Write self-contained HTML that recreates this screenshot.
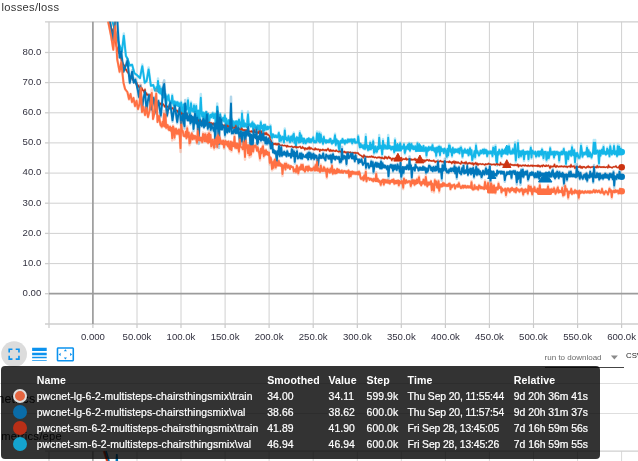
<!DOCTYPE html>
<html lang="en">
<head>
<meta charset="utf-8">
<title>losses/loss</title>
<style>
html,body{margin:0;padding:0;background:#fff;}
body{width:638px;height:461px;overflow:hidden;position:relative;font-family:"Liberation Sans",sans-serif;}
#chart{position:absolute;left:0;top:0;width:638px;height:461px;}
#chart text{font-family:"Liberation Sans",sans-serif;}
.title{position:absolute;left:1.5px;top:1px;font-size:11.2px;letter-spacing:.28px;color:#333;white-space:nowrap;line-height:13px;}
.tick{font-size:9.6px;fill:#32313f;}
.behind{position:absolute;color:#111;white-space:nowrap;}
.hline{position:absolute;left:0;width:638px;height:1px;background:#dedede;}
#tip{position:absolute;left:1px;top:366px;width:599px;height:93px;background:rgba(0,0,0,.8);border-radius:4px;color:#fff;font-size:10.4px;}
#tip div{position:absolute;white-space:nowrap;line-height:12px;letter-spacing:.1px;-webkit-text-stroke:.22px #fff;}
#tip .h{-webkit-text-stroke:0;}
#tip .h{font-weight:bold;font-size:10.6px;}
#tip .sw{width:14px;height:14px;border-radius:50%;box-sizing:border-box;}
.dl{position:absolute;left:544.6px;top:351.5px;font-size:8px;color:#6a6a6a;white-space:nowrap;line-height:11px;}
.csv{position:absolute;left:626px;top:349.7px;font-size:7.8px;color:#222;white-space:nowrap;line-height:11px;}
</style>
</head>
<body>

<svg id="chart" width="638" height="461" viewBox="0 0 638 461">
<defs><clipPath id="pc"><rect x="49.0" y="21.8" width="589.0" height="302.2"/></clipPath></defs>
<g stroke="#d0d0d0" stroke-width="1"><line x1="137.0" y1="21.8" x2="137.0" y2="324.0"/><line x1="181.0" y1="21.8" x2="181.0" y2="324.0"/><line x1="225.1" y1="21.8" x2="225.1" y2="324.0"/><line x1="269.1" y1="21.8" x2="269.1" y2="324.0"/><line x1="313.2" y1="21.8" x2="313.2" y2="324.0"/><line x1="357.3" y1="21.8" x2="357.3" y2="324.0"/><line x1="401.3" y1="21.8" x2="401.3" y2="324.0"/><line x1="445.4" y1="21.8" x2="445.4" y2="324.0"/><line x1="489.4" y1="21.8" x2="489.4" y2="324.0"/><line x1="533.5" y1="21.8" x2="533.5" y2="324.0"/><line x1="577.6" y1="21.8" x2="577.6" y2="324.0"/><line x1="621.6" y1="21.8" x2="621.6" y2="324.0"/><line x1="49.0" y1="263.6" x2="638" y2="263.6"/><line x1="49.0" y1="233.4" x2="638" y2="233.4"/><line x1="49.0" y1="203.2" x2="638" y2="203.2"/><line x1="49.0" y1="173.1" x2="638" y2="173.1"/><line x1="49.0" y1="142.9" x2="638" y2="142.9"/><line x1="49.0" y1="112.8" x2="638" y2="112.8"/><line x1="49.0" y1="82.6" x2="638" y2="82.6"/><line x1="49.0" y1="52.5" x2="638" y2="52.5"/></g>
<g stroke="#cecece" stroke-width="1.3" fill="none">
<line x1="45.0" y1="21.8" x2="638" y2="21.8"/>
<line x1="49.0" y1="21.8" x2="49.0" y2="328.0"/>
<line x1="45.0" y1="324.0" x2="638" y2="324.0"/>
<line x1="45.0" y1="293.7" x2="49.0" y2="293.7"/>
<line x1="45.0" y1="263.6" x2="49.0" y2="263.6"/>
<line x1="45.0" y1="233.4" x2="49.0" y2="233.4"/>
<line x1="45.0" y1="203.2" x2="49.0" y2="203.2"/>
<line x1="45.0" y1="173.1" x2="49.0" y2="173.1"/>
<line x1="45.0" y1="142.9" x2="49.0" y2="142.9"/>
<line x1="45.0" y1="112.8" x2="49.0" y2="112.8"/>
<line x1="45.0" y1="82.6" x2="49.0" y2="82.6"/>
<line x1="45.0" y1="52.5" x2="49.0" y2="52.5"/>
</g>
<g stroke="#c9c9c9" stroke-width="1.2"><line x1="92.9" y1="324.0" x2="92.9" y2="328.0"/><line x1="137.0" y1="324.0" x2="137.0" y2="328.0"/><line x1="181.0" y1="324.0" x2="181.0" y2="328.0"/><line x1="225.1" y1="324.0" x2="225.1" y2="328.0"/><line x1="269.1" y1="324.0" x2="269.1" y2="328.0"/><line x1="313.2" y1="324.0" x2="313.2" y2="328.0"/><line x1="357.3" y1="324.0" x2="357.3" y2="328.0"/><line x1="401.3" y1="324.0" x2="401.3" y2="328.0"/><line x1="445.4" y1="324.0" x2="445.4" y2="328.0"/><line x1="489.4" y1="324.0" x2="489.4" y2="328.0"/><line x1="533.5" y1="324.0" x2="533.5" y2="328.0"/><line x1="577.6" y1="324.0" x2="577.6" y2="328.0"/><line x1="621.6" y1="324.0" x2="621.6" y2="328.0"/></g>
<g stroke="#9c9c9c" stroke-width="1.7"><line x1="92.9" y1="21.8" x2="92.9" y2="324.0"/><line x1="49.0" y1="293.7" x2="638" y2="293.7"/></g>
<text class="tick" x="41.3" y="296.0" text-anchor="end">0.00</text>
<text class="tick" x="41.3" y="265.9" text-anchor="end">10.0</text>
<text class="tick" x="41.3" y="235.7" text-anchor="end">20.0</text>
<text class="tick" x="41.3" y="205.6" text-anchor="end">30.0</text>
<text class="tick" x="41.3" y="175.4" text-anchor="end">40.0</text>
<text class="tick" x="41.3" y="145.2" text-anchor="end">50.0</text>
<text class="tick" x="41.3" y="115.1" text-anchor="end">60.0</text>
<text class="tick" x="41.3" y="84.9" text-anchor="end">70.0</text>
<text class="tick" x="41.3" y="54.8" text-anchor="end">80.0</text>
<text class="tick" x="92.9" y="340.3" text-anchor="middle">0.000</text>
<text class="tick" x="137.0" y="340.3" text-anchor="middle">50.00k</text>
<text class="tick" x="181.0" y="340.3" text-anchor="middle">100.0k</text>
<text class="tick" x="225.1" y="340.3" text-anchor="middle">150.0k</text>
<text class="tick" x="269.1" y="340.3" text-anchor="middle">200.0k</text>
<text class="tick" x="313.2" y="340.3" text-anchor="middle">250.0k</text>
<text class="tick" x="357.3" y="340.3" text-anchor="middle">300.0k</text>
<text class="tick" x="401.3" y="340.3" text-anchor="middle">350.0k</text>
<text class="tick" x="445.4" y="340.3" text-anchor="middle">400.0k</text>
<text class="tick" x="489.4" y="340.3" text-anchor="middle">450.0k</text>
<text class="tick" x="533.5" y="340.3" text-anchor="middle">500.0k</text>
<text class="tick" x="577.6" y="340.3" text-anchor="middle">550.0k</text>
<text class="tick" x="621.6" y="340.3" text-anchor="middle">600.0k</text>
<g clip-path="url(#pc)" fill="none" stroke-linejoin="round" stroke-linecap="round">
<polyline points="108.0,-21.3 112.0,19.7 116.0,34.2 119.0,44.6 121.9,52.1 123.8,33.6 125.9,56.0 127.4,58.3 129.8,66.0 132.1,64.6 134.5,73.9 136.8,75.2 140.0,78.4 142.3,64.6 144.7,83.3 146.6,81.1 148.6,67.5 150.9,86.0 153.3,84.8 154.9,90.9 155.8,91.1 156.5,86.7 157.2,91.5 158.0,78.6 158.8,92.7 159.5,85.0 160.2,93.7 161.0,87.8 161.8,95.2 162.5,92.2 163.2,98.4 164.0,89.5 164.8,97.3 165.5,93.9 166.2,106.0 167.0,96.2 167.8,99.9 168.5,94.5 169.2,101.0 170.0,101.9 170.8,104.1 171.5,103.0 172.2,94.4 173.0,103.1 173.8,106.5 174.5,101.0 175.2,105.4 176.0,101.8 176.8,105.7 177.5,101.8 178.2,106.3 179.0,102.6 179.8,107.2 180.5,104.1 181.2,101.6 182.0,123.2 182.8,119.4 183.5,103.7 184.2,108.9 185.0,103.4 185.8,109.3 186.5,109.8 187.2,106.8 188.0,98.2 188.8,113.9 189.5,107.7 190.2,114.1 191.0,101.7 191.8,111.1 192.5,108.6 193.2,111.9 194.0,104.2 194.8,112.4 195.5,109.4 196.2,104.6 197.0,123.3 197.8,110.4 198.5,110.5 199.2,127.7 200.0,111.6 200.8,94.1 201.5,111.6 202.2,117.2 203.0,112.2 203.8,119.9 204.5,112.8 205.2,120.1 206.0,111.4 206.8,118.5 207.5,113.7 208.2,113.6 209.0,124.3 209.8,117.6 210.5,114.5 211.2,117.6 212.0,113.9 212.8,112.3 213.5,118.3 214.2,115.1 215.0,113.0 215.8,127.0 216.5,119.7 217.2,103.6 218.0,115.9 218.8,116.6 219.5,123.5 220.2,113.2 221.0,120.4 221.8,121.0 222.5,118.3 223.2,117.4 224.0,121.7 224.8,114.3 225.5,123.6 226.2,118.2 227.0,127.0 227.8,127.5 228.5,120.1 229.2,123.5 230.0,120.2 230.8,123.0 231.5,118.7 232.2,126.3 233.0,120.9 233.8,127.8 234.5,124.1 235.2,121.2 236.0,132.5 236.8,120.9 237.5,121.5 238.2,128.5 239.0,118.7 239.8,124.6 240.5,122.3 241.2,135.1 242.0,110.9 242.8,127.0 243.5,119.4 244.2,127.0 245.0,123.3 245.8,126.0 246.5,127.5 247.2,121.8 248.0,111.6 248.8,125.9 249.5,124.1 250.2,123.9 251.0,126.9 251.8,123.0 252.5,121.4 253.2,130.5 254.0,123.3 254.8,127.9 255.5,125.0 256.2,129.5 257.0,128.5 257.8,125.3 258.5,130.3 259.2,125.6 260.0,132.7 260.8,121.1 261.5,128.4 262.2,125.6 263.0,131.9 263.8,124.5 264.5,131.1 265.2,124.3 266.0,128.7 266.8,129.9 267.5,126.5 268.2,129.2 269.0,126.8 269.8,126.9 270.5,124.9 271.2,137.7 272.0,138.6 272.8,133.9 273.5,134.6 274.2,137.3 275.0,137.2 275.8,135.2 276.5,137.4 277.2,137.6 278.0,135.7 278.8,132.0 279.5,142.1 280.2,135.3 281.0,141.6 281.8,138.7 282.5,136.5 283.2,138.7 284.0,143.3 284.8,128.5 285.5,139.3 286.2,137.3 287.0,141.1 287.8,139.8 288.5,135.7 289.2,140.8 290.0,142.9 290.8,136.7 291.5,135.7 292.2,141.7 293.0,134.8 293.8,132.6 294.5,143.5 295.2,138.4 296.0,148.1 296.8,136.7 297.5,140.8 298.2,137.5 299.0,143.3 299.8,131.3 300.5,142.6 301.2,134.4 302.0,141.9 302.8,138.2 303.5,143.9 304.2,138.6 305.0,140.7 305.8,144.1 306.5,142.3 307.2,138.8 308.0,141.9 308.8,137.9 309.5,142.6 310.2,138.9 311.0,142.7 311.8,138.9 312.5,141.0 313.2,136.7 314.0,142.8 314.8,141.4 315.5,143.0 316.2,142.7 317.0,131.4 317.8,138.7 318.5,141.5 319.2,131.7 320.0,142.7 320.8,133.0 321.5,141.4 322.2,138.8 323.0,144.6 323.8,135.9 324.5,141.8 325.2,139.9 326.0,143.2 326.8,140.1 327.5,142.3 328.2,140.2 329.0,142.4 329.8,138.5 330.5,138.4 331.2,142.4 332.0,144.1 332.8,140.6 333.5,142.7 334.2,140.2 335.0,133.7 335.8,145.8 336.5,139.0 337.2,143.6 338.0,140.6 338.8,149.4 339.5,153.2 340.2,141.4 341.0,140.5 341.8,142.8 342.5,138.4 343.2,142.5 344.0,140.4 344.8,144.5 345.5,140.3 346.2,142.2 347.0,143.0 347.8,139.0 348.5,141.9 349.2,139.3 350.0,141.7 350.8,139.2 351.5,139.1 352.2,144.2 353.0,139.3 353.8,141.7 354.5,139.0 355.2,143.3 356.0,142.6 356.8,143.1 357.5,142.9 358.2,135.2 359.0,143.2 359.8,148.4 360.5,143.5 361.2,147.4 362.0,144.9 362.8,147.6 363.5,149.0 364.2,144.5 365.0,149.6 365.8,134.3 366.5,147.9 367.2,145.2 368.0,151.0 368.8,145.8 369.5,150.0 370.2,141.6 371.0,149.8 371.8,144.1 372.5,148.2 373.2,139.8 374.0,154.2 374.8,150.9 375.5,146.2 376.2,152.9 377.0,152.5 377.8,146.5 378.5,149.5 379.2,135.1 380.0,148.2 380.8,145.2 381.5,148.7 382.2,156.0 383.0,139.1 383.8,149.1 384.5,144.4 385.2,144.7 386.0,148.9 386.8,146.4 387.5,148.8 388.2,135.1 389.0,148.3 389.8,145.5 390.5,148.7 391.2,150.2 392.0,146.5 392.8,149.2 393.5,146.4 394.2,153.4 395.0,138.4 395.8,150.3 396.5,146.5 397.2,148.9 398.0,146.4 398.8,149.7 399.5,146.5 400.2,142.5 401.0,149.5 401.8,146.5 402.5,148.8 403.2,146.4 404.0,143.5 404.8,154.2 405.5,151.2 406.2,146.4 407.0,148.9 407.8,144.1 408.5,149.5 409.2,142.7 410.0,151.4 410.8,143.7 411.5,143.1 412.2,148.9 413.0,145.6 413.8,149.6 414.5,149.2 415.2,145.6 416.0,151.2 416.8,150.1 417.5,142.4 418.2,146.4 419.0,149.2 419.8,150.2 420.5,146.9 421.2,146.4 422.0,149.4 422.8,149.6 423.5,145.4 424.2,151.5 425.0,149.9 425.8,147.2 426.5,157.2 427.2,147.9 428.0,151.3 428.8,146.5 429.5,150.1 430.2,147.9 431.0,146.8 431.8,150.4 432.5,144.0 433.2,150.4 434.0,147.8 434.8,152.4 435.5,147.7 436.2,157.5 437.0,147.2 437.8,152.5 438.5,146.2 439.2,145.6 440.0,156.3 440.8,146.6 441.5,151.3 442.2,149.1 443.0,149.1 443.8,153.6 444.5,148.3 445.2,149.2 446.0,152.3 446.8,158.4 447.5,148.5 448.2,156.6 449.0,144.0 449.8,144.7 450.5,151.9 451.2,149.2 452.0,156.9 452.8,147.2 453.5,153.0 454.2,153.2 455.0,148.9 455.8,152.3 456.5,149.7 457.2,148.8 458.0,152.4 458.8,148.3 459.5,153.9 460.2,147.3 461.0,146.4 461.8,149.8 462.5,157.8 463.2,150.5 464.0,153.0 464.8,148.6 465.5,152.7 466.2,150.4 467.0,153.3 467.8,149.3 468.5,156.0 469.2,153.3 470.0,147.2 470.8,155.2 471.5,149.7 472.2,162.0 473.0,157.6 473.8,155.9 474.5,151.0 475.2,158.6 476.0,143.8 476.8,153.0 477.5,150.9 478.2,153.4 479.0,156.1 479.8,154.1 480.5,150.2 481.2,153.5 482.0,151.1 482.8,149.2 483.5,153.9 484.2,148.8 485.0,153.4 485.8,149.4 486.5,149.9 487.2,157.1 488.0,151.3 488.8,153.6 489.5,153.7 490.2,151.0 491.0,153.6 491.8,151.1 492.5,157.0 493.2,146.4 494.0,148.4 494.8,154.6 495.5,145.1 496.2,162.2 497.0,165.7 497.8,151.8 498.5,155.0 499.2,149.3 500.0,153.5 500.8,151.2 501.5,157.4 502.2,148.9 503.0,154.1 503.8,150.6 504.5,150.2 505.2,153.7 506.0,153.8 506.8,151.2 507.5,154.8 508.2,151.1 509.0,144.5 509.8,150.8 510.5,154.0 511.2,151.3 512.0,153.9 512.8,148.3 513.5,151.0 514.2,153.7 515.0,142.0 515.8,162.4 516.5,151.7 517.2,150.1 518.0,140.6 518.8,158.3 519.5,151.0 520.2,151.2 521.0,157.2 521.8,150.7 522.5,154.7 523.2,150.0 524.0,161.1 524.8,151.7 525.5,154.4 526.2,151.4 527.0,153.8 527.8,151.3 528.5,160.7 529.2,151.6 530.0,153.8 530.8,146.5 531.5,158.7 532.2,150.1 533.0,151.2 533.8,153.8 534.5,154.0 535.2,151.4 536.0,157.5 536.8,156.3 537.5,151.6 538.2,151.2 539.0,156.9 539.8,151.3 540.5,151.1 541.2,155.5 542.0,148.5 542.8,151.4 543.5,159.4 544.2,151.9 545.0,151.6 545.8,151.6 546.5,161.4 547.2,158.9 548.0,152.0 548.8,159.3 549.5,155.5 550.2,147.1 551.0,154.9 551.8,151.9 552.5,154.4 553.2,151.5 554.0,158.7 554.8,151.2 555.5,155.2 556.2,152.1 557.0,151.3 557.8,154.5 558.5,152.1 559.2,162.3 560.0,152.5 560.8,154.7 561.5,151.1 562.2,154.6 563.0,152.2 563.8,147.9 564.5,154.6 565.2,151.9 566.0,166.5 566.8,152.0 567.5,156.3 568.2,160.4 569.0,150.9 569.8,154.9 570.5,150.7 571.2,156.3 572.0,145.4 572.8,154.7 573.5,155.5 574.2,149.2 575.0,164.4 575.8,153.1 576.5,156.9 577.2,152.7 578.0,155.6 578.8,158.9 579.5,159.0 580.2,155.5 581.0,143.7 581.8,150.0 582.5,157.5 583.2,152.5 584.0,154.9 584.8,152.3 585.5,152.2 586.2,154.8 587.0,146.3 587.8,157.1 588.5,149.4 589.2,156.9 590.0,152.2 590.8,155.6 591.5,158.5 592.2,155.1 593.0,152.0 593.8,140.1 594.5,153.8 595.2,140.1 596.0,153.8 596.8,151.5 597.5,150.0 598.2,151.0 599.0,166.0 599.8,150.1 600.5,156.4 601.2,151.1 602.0,148.9 602.8,154.0 603.5,145.4 604.2,153.7 605.0,151.5 605.8,155.0 606.5,154.1 607.2,147.6 608.0,153.7 608.8,149.7 609.5,157.1 610.2,144.6 611.0,150.8 611.8,154.9 612.5,150.7 613.2,153.7 614.0,144.4 614.8,154.6 615.5,153.8 616.2,151.1 617.0,157.1 617.8,144.6 618.5,155.0 619.2,145.3 620.0,155.0 620.8,148.1 621.7,152.1" stroke="#14b6e8" stroke-width="2.5" stroke-opacity=".3"/>
<polyline points="108.0,-20.0 112.0,20.0 116.0,34.0 119.0,44.0 121.9,51.3 123.8,35.7 125.9,56.0 127.4,58.4 129.8,65.5 132.1,64.7 134.5,73.3 136.8,74.9 140.0,78.0 142.3,66.2 144.7,82.7 146.6,81.0 148.6,69.4 150.9,85.8 153.3,85.0 154.9,90.5 155.8,90.6 156.5,87.1 157.2,91.1 158.0,80.9 158.8,92.3 159.5,86.3 160.2,93.4 161.0,88.8 161.8,94.8 162.5,92.6 163.2,97.6 164.0,90.6 164.8,97.0 165.5,94.4 166.2,104.2 167.0,96.5 167.8,99.6 168.5,95.3 169.2,100.7 170.0,101.5 170.8,103.3 171.5,102.6 172.2,95.8 173.0,102.8 173.8,105.6 174.5,101.4 175.2,104.9 176.0,102.1 176.8,105.4 177.5,102.3 178.2,106.0 179.0,103.1 179.8,106.8 180.5,104.5 181.2,102.6 182.0,119.9 182.8,116.9 183.5,104.4 184.2,108.6 185.0,104.2 185.8,109.0 186.5,109.5 187.2,107.1 188.0,100.3 188.8,112.9 189.5,108.0 190.2,113.2 191.0,103.3 191.8,110.8 192.5,108.9 193.2,111.6 194.0,105.5 194.8,112.1 195.5,109.7 196.2,105.9 197.0,121.0 197.8,110.7 198.5,110.8 199.2,124.6 200.0,111.8 200.8,97.8 201.5,111.9 202.2,116.5 203.0,112.5 203.8,118.7 204.5,113.1 205.2,118.9 206.0,112.0 206.8,117.7 207.5,113.9 208.2,114.0 209.0,122.5 209.8,117.2 210.5,114.8 211.2,117.3 212.0,114.4 212.8,113.2 213.5,118.0 214.2,115.5 215.0,113.9 215.8,125.2 216.5,119.4 217.2,106.5 218.0,116.4 218.8,117.0 219.5,122.6 220.2,114.3 221.0,120.2 221.8,120.7 222.5,118.6 223.2,117.9 224.0,121.4 224.8,115.5 225.5,123.0 226.2,118.7 227.0,125.7 227.8,126.2 228.5,120.3 229.2,123.0 230.0,120.5 230.8,122.7 231.5,119.3 232.2,125.5 233.0,121.2 233.8,126.7 234.5,123.7 235.2,121.5 236.0,130.6 236.8,121.3 237.5,121.8 238.2,127.4 239.0,119.6 239.8,124.4 240.5,122.6 241.2,132.8 242.0,113.5 242.8,126.4 243.5,120.4 244.2,126.5 245.0,123.5 245.8,125.8 246.5,126.9 247.2,122.4 248.0,114.3 248.8,125.8 249.5,124.4 250.2,124.2 251.0,126.6 251.8,123.5 252.5,122.3 253.2,129.6 254.0,123.9 254.8,127.6 255.5,125.3 256.2,128.9 257.0,128.1 257.8,125.5 258.5,129.6 259.2,125.9 260.0,131.5 260.8,122.3 261.5,128.1 262.2,125.9 263.0,131.0 263.8,125.0 264.5,130.4 265.2,124.9 266.0,128.5 266.8,129.4 267.5,126.7 268.2,129.0 269.0,127.1 269.8,127.5 270.5,126.3 271.2,136.9 272.0,138.0 272.8,134.2 273.5,134.8 274.2,137.1 275.0,137.0 275.8,135.4 276.5,137.2 277.2,137.4 278.0,135.9 278.8,132.9 279.5,141.1 280.2,135.7 281.0,140.8 281.8,138.4 282.5,136.7 283.2,138.5 284.0,142.2 284.8,130.4 285.5,139.1 286.2,137.5 287.0,140.6 287.8,139.5 288.5,136.3 289.2,140.4 290.0,142.1 290.8,137.2 291.5,136.4 292.2,141.2 293.0,135.7 293.8,133.9 294.5,142.7 295.2,138.5 296.0,146.3 296.8,137.2 297.5,140.5 298.2,137.9 299.0,142.5 299.8,133.0 300.5,142.0 301.2,135.4 302.0,141.4 302.8,138.4 303.5,143.1 304.2,138.8 305.0,140.5 305.8,143.2 306.5,141.8 307.2,139.0 308.0,141.5 308.8,138.3 309.5,142.1 310.2,139.1 311.0,142.1 311.8,139.1 312.5,140.8 313.2,137.4 314.0,142.3 314.8,141.1 315.5,142.4 316.2,142.2 317.0,133.2 317.8,139.0 318.5,141.3 319.2,133.4 320.0,142.3 320.8,134.5 321.5,141.3 322.2,139.2 323.0,143.9 323.8,136.9 324.5,141.6 325.2,140.2 326.0,142.8 326.8,140.3 327.5,142.0 328.2,140.4 329.0,142.2 329.8,139.1 330.5,139.0 331.2,142.2 332.0,143.6 332.8,140.8 333.5,142.5 334.2,140.5 335.0,135.3 335.8,145.0 336.5,139.5 337.2,143.3 338.0,140.9 338.8,147.9 339.5,151.0 340.2,141.5 341.0,140.7 341.8,142.6 342.5,139.0 343.2,142.3 344.0,140.6 344.8,143.9 345.5,140.5 346.2,142.0 347.0,142.6 347.8,139.4 348.5,141.7 349.2,139.6 350.0,141.5 350.8,139.5 351.5,139.4 352.2,143.4 353.0,139.5 353.8,141.4 354.5,139.2 355.2,142.7 356.0,142.1 356.8,142.6 357.5,142.5 358.2,136.4 359.0,143.0 359.8,147.4 360.5,143.7 361.2,147.0 362.0,145.2 362.8,147.4 363.5,148.5 364.2,144.9 365.0,149.0 365.8,136.8 366.5,147.6 367.2,145.5 368.0,150.1 368.8,146.0 369.5,149.4 370.2,142.7 371.0,149.2 371.8,144.7 372.5,148.0 373.2,141.3 374.0,152.8 374.8,150.2 375.5,146.4 376.2,151.8 377.0,151.5 377.8,146.7 378.5,149.1 379.2,137.6 380.0,148.1 380.8,145.6 381.5,148.5 382.2,154.4 383.0,140.8 383.8,148.8 384.5,145.1 385.2,145.3 386.0,148.6 386.8,146.6 387.5,148.6 388.2,137.6 389.0,148.2 389.8,145.9 390.5,148.5 391.2,149.6 392.0,146.7 392.8,148.9 393.5,146.7 394.2,152.2 395.0,140.2 395.8,149.8 396.5,146.7 397.2,148.7 398.0,146.6 398.8,149.3 399.5,146.7 400.2,143.5 401.0,149.1 401.8,146.7 402.5,148.6 403.2,146.7 404.0,144.3 404.8,152.9 405.5,150.5 406.2,146.7 407.0,148.7 407.8,144.9 408.5,149.2 409.2,143.7 410.0,150.7 410.8,144.5 411.5,144.1 412.2,148.7 413.0,146.1 413.8,149.2 414.5,149.0 415.2,146.1 416.0,150.5 416.8,149.6 417.5,143.5 418.2,146.7 419.0,148.9 419.8,149.8 420.5,147.1 421.2,146.7 422.0,149.1 422.8,149.3 423.5,146.0 424.2,150.9 425.0,149.7 425.8,147.5 426.5,155.5 427.2,148.1 428.0,150.8 428.8,147.0 429.5,149.9 430.2,148.1 431.0,147.2 431.8,150.1 432.5,145.1 433.2,150.2 434.0,148.2 434.8,151.9 435.5,148.1 436.2,155.9 437.0,147.7 437.8,151.9 438.5,147.0 439.2,146.5 440.0,155.1 440.8,147.3 441.5,151.1 442.2,149.3 443.0,149.3 443.8,153.0 444.5,148.8 445.2,149.5 446.0,152.0 446.8,156.9 447.5,149.0 448.2,155.4 449.0,145.4 449.8,145.9 450.5,151.7 451.2,149.5 452.0,155.7 452.8,148.0 453.5,152.6 454.2,152.8 455.0,149.3 455.8,152.1 456.5,150.0 457.2,149.3 458.0,152.2 458.8,148.9 459.5,153.4 460.2,148.1 461.0,147.4 461.8,150.1 462.5,156.6 463.2,150.7 464.0,152.7 464.8,149.2 465.5,152.5 466.2,150.7 467.0,152.9 467.8,149.8 468.5,155.2 469.2,153.0 470.0,148.2 470.8,154.5 471.5,150.1 472.2,160.0 473.0,156.5 473.8,155.1 474.5,151.2 475.2,157.3 476.0,145.5 476.8,152.8 477.5,151.2 478.2,153.2 479.0,155.4 479.8,153.8 480.5,150.6 481.2,153.3 482.0,151.3 482.8,149.8 483.5,153.6 484.2,149.5 485.0,153.2 485.8,150.0 486.5,150.4 487.2,156.1 488.0,151.5 488.8,153.4 489.5,153.4 490.2,151.3 491.0,153.3 491.8,151.4 492.5,156.0 493.2,147.6 494.0,149.2 494.8,154.2 495.5,146.6 496.2,160.2 497.0,163.1 497.8,151.9 498.5,154.5 499.2,150.0 500.0,153.3 500.8,151.4 501.5,156.4 502.2,149.6 503.0,153.8 503.8,150.9 504.5,150.7 505.2,153.4 506.0,153.5 506.8,151.5 507.5,154.3 508.2,151.4 509.0,146.1 509.8,151.1 510.5,153.7 511.2,151.5 512.0,153.6 512.8,149.2 513.5,151.3 514.2,153.5 515.0,144.1 515.8,160.5 516.5,151.9 517.2,150.6 518.0,143.0 518.8,157.1 519.5,151.3 520.2,151.4 521.0,156.2 521.8,151.1 522.5,154.3 523.2,150.5 524.0,159.4 524.8,151.9 525.5,154.0 526.2,151.6 527.0,153.6 527.8,151.6 528.5,159.1 529.2,151.8 530.0,153.6 530.8,147.8 531.5,157.5 532.2,150.6 533.0,151.5 533.8,153.6 534.5,153.7 535.2,151.7 536.0,156.5 536.8,155.6 537.5,151.8 538.2,151.5 539.0,156.0 539.8,151.6 540.5,151.4 541.2,154.9 542.0,149.4 542.8,151.7 543.5,158.1 544.2,152.1 545.0,151.9 545.8,151.9 546.5,159.7 547.2,157.8 548.0,152.2 548.8,158.1 549.5,155.0 550.2,148.3 551.0,154.5 551.8,152.2 552.5,154.2 553.2,151.8 554.0,157.6 554.8,151.6 555.5,154.8 556.2,152.3 557.0,151.7 557.8,154.3 558.5,152.4 559.2,160.5 560.0,152.7 560.8,154.5 561.5,151.6 562.2,154.4 563.0,152.5 563.8,149.0 564.5,154.4 565.2,152.2 566.0,163.9 566.8,152.3 567.5,155.8 568.2,159.1 569.0,151.4 569.8,154.6 570.5,151.3 571.2,155.8 572.0,147.1 572.8,154.5 573.5,155.2 574.2,150.1 575.0,162.3 575.8,153.2 576.5,156.3 577.2,153.0 578.0,155.3 578.8,157.9 579.5,157.9 580.2,155.2 581.0,145.7 581.8,150.8 582.5,156.7 583.2,152.8 584.0,154.6 584.8,152.6 585.5,152.5 586.2,154.5 587.0,147.7 587.8,156.4 588.5,150.2 589.2,156.2 590.0,152.5 590.8,155.1 591.5,157.5 592.2,154.7 593.0,152.3 593.8,142.7 594.5,153.7 595.2,142.7 596.0,153.7 596.8,151.8 597.5,150.6 598.2,151.4 599.0,163.4 599.8,150.7 600.5,155.7 601.2,151.5 602.0,149.7 602.8,153.8 603.5,146.9 604.2,153.6 605.0,151.8 605.8,154.5 606.5,153.9 607.2,148.6 608.0,153.5 608.8,150.3 609.5,156.2 610.2,146.2 611.0,151.2 611.8,154.5 612.5,151.0 613.2,153.4 614.0,146.0 614.8,154.2 615.5,153.5 616.2,151.3 617.0,156.1 617.8,146.2 618.5,154.5 619.2,146.7 620.0,154.4 620.8,148.9 621.7,152.1" stroke="#14b6e8" stroke-width="1.9"/>
<polyline points="106.0,-20.5 106.8,-11.8 107.5,-4.6 108.2,3.2 109.0,11.1 109.8,21.4 110.5,22.9 111.2,28.2 112.0,29.0 112.8,30.6 113.5,36.4 114.2,38.0 115.0,41.5 115.8,43.6 116.5,46.7 117.2,47.6 118.0,51.3 118.8,53.0 119.5,53.5 120.2,57.5 121.0,58.4 121.8,63.5 122.5,62.2 123.2,64.3 124.0,65.0 124.8,66.4 125.5,70.3 126.2,69.2 127.0,72.0 127.8,72.3 128.5,73.6 129.2,76.2 130.0,75.8 130.8,78.4 131.5,77.8 132.2,78.6 133.0,80.3 133.8,80.3 134.5,82.6 135.2,81.9 136.0,83.9 136.8,82.5 137.5,88.3 138.2,85.1 139.0,87.5 139.8,87.5 140.5,86.9 141.2,90.6 142.0,88.0 142.8,90.7 143.5,90.2 144.2,92.7 145.0,88.6 145.8,95.6 146.5,92.9 147.2,95.1 148.0,94.3 148.8,96.7 149.5,96.8 150.2,94.2 151.0,97.7 151.8,97.1 152.5,99.1 153.2,98.8 154.0,100.1 154.8,100.0 155.5,101.7 156.2,102.6 157.0,102.4 157.8,102.2 158.5,103.2 159.2,102.9 160.0,105.1 160.8,103.1 161.5,104.5 162.2,105.7 163.0,103.6 163.8,104.7 164.5,107.1 165.2,105.5 166.0,107.0 166.8,105.7 167.5,107.2 168.2,106.7 169.0,107.7 169.8,109.2 170.5,107.7 171.2,108.6 172.0,108.2 172.8,107.6 173.5,110.1 174.2,110.5 175.0,109.9 175.8,110.9 176.5,110.4 177.2,110.2 178.0,112.6 178.8,111.7 179.5,112.0 180.2,113.2 181.0,112.3 181.8,114.5 182.5,113.3 183.2,113.6 184.0,115.1 184.8,114.3 185.5,116.3 186.2,118.8 187.0,113.2 187.8,116.2 188.5,117.4 189.2,117.0 190.0,118.0 190.8,117.6 191.5,118.5 192.2,119.4 193.0,119.5 193.8,118.6 194.5,118.5 195.2,121.3 196.0,119.0 196.8,120.7 197.5,122.2 198.2,120.0 199.0,121.4 199.8,120.6 200.5,121.5 201.2,121.8 202.0,120.6 202.8,122.1 203.5,121.6 204.2,124.7 205.0,122.1 205.8,122.8 206.5,121.5 207.2,124.0 208.0,122.7 208.8,124.3 209.5,122.2 210.2,123.7 211.0,122.6 211.8,123.1 212.5,124.8 213.2,122.9 214.0,125.2 214.8,124.9 215.5,123.4 216.2,125.6 217.0,125.3 217.8,124.1 218.5,125.5 219.2,125.6 220.0,123.3 220.8,125.5 221.5,124.4 222.2,124.4 223.0,125.2 223.8,126.9 224.5,124.9 225.2,125.3 226.0,127.6 226.8,127.9 227.5,125.2 228.2,127.0 229.0,125.7 229.8,129.5 230.5,126.6 231.2,129.4 232.0,126.2 232.8,128.3 233.5,128.1 234.2,127.6 235.0,128.4 235.8,125.2 236.5,128.0 237.2,129.5 238.0,128.5 238.8,129.3 239.5,128.8 240.2,129.9 241.0,129.7 241.8,128.0 242.5,130.3 243.2,129.6 244.0,130.8 244.8,129.7 245.5,131.4 246.2,129.6 247.0,131.0 247.8,129.0 248.5,131.3 249.2,131.5 250.0,131.1 250.8,131.8 251.5,130.7 252.2,132.2 253.0,131.6 253.8,132.3 254.5,129.3 255.2,132.7 256.0,132.1 256.8,132.9 257.5,132.1 258.2,133.5 259.0,130.6 259.8,132.3 260.5,136.1 261.2,130.6 262.0,134.3 262.8,133.9 263.5,133.5 264.2,134.6 265.0,132.6 265.8,134.4 266.5,132.4 267.2,134.8 268.0,134.3 268.8,135.2 269.5,135.9 270.2,139.1 271.0,140.4 271.8,143.1 272.5,143.3 273.2,144.9 274.0,143.5 274.8,144.2 275.5,143.4 276.2,145.0 277.0,143.5 277.8,144.9 278.5,143.4 279.2,144.2 280.0,145.3 280.8,145.6 281.5,145.7 282.2,144.9 283.0,145.8 283.8,145.8 284.5,145.3 285.2,145.9 286.0,145.4 286.8,147.3 287.5,145.4 288.2,146.6 289.0,146.5 289.8,146.6 290.5,146.7 291.2,146.2 292.0,146.3 292.8,147.4 293.5,147.5 294.2,146.5 295.0,147.2 295.8,146.4 296.5,147.9 297.2,147.0 298.0,147.7 298.8,146.8 299.5,146.8 300.2,146.2 301.0,148.3 301.8,148.4 302.5,146.5 303.2,148.1 304.0,147.7 304.8,150.3 305.5,148.0 306.2,148.5 307.0,149.6 307.8,147.8 308.5,148.7 309.2,146.6 310.0,149.5 310.8,147.6 311.5,148.0 312.2,149.1 313.0,149.3 313.8,149.7 314.5,149.9 315.2,147.9 316.0,149.7 316.8,148.9 317.5,149.8 318.2,149.1 319.0,149.2 319.8,151.8 320.5,149.5 321.2,150.0 322.0,150.4 322.8,149.2 323.5,150.2 324.2,149.7 325.0,150.8 325.8,149.5 326.5,150.8 327.2,149.5 328.0,148.1 328.8,150.0 329.5,151.4 330.2,149.4 331.0,151.4 331.8,150.2 332.5,151.1 333.2,150.2 334.0,151.1 334.8,150.7 335.5,151.3 336.2,150.0 337.0,150.9 337.8,151.5 338.5,151.9 339.2,151.2 340.0,151.8 340.8,151.3 341.5,153.0 342.2,150.7 343.0,152.0 343.8,152.3 344.5,151.3 345.2,152.8 346.0,151.9 346.8,153.2 347.5,152.0 348.2,152.6 349.0,152.1 349.8,152.7 350.5,152.0 351.2,152.9 352.0,153.2 352.8,152.5 353.5,152.6 354.2,153.2 355.0,152.3 355.8,153.4 356.5,152.8 357.2,153.1 358.0,152.7 358.8,154.3 359.5,154.3 360.2,155.4 361.0,155.2 361.8,156.5 362.5,156.2 363.2,158.1 364.0,154.6 364.8,156.7 365.5,156.4 366.2,157.2 367.0,156.3 367.8,157.0 368.5,157.2 369.2,156.4 370.0,157.2 370.8,156.5 371.5,155.9 372.2,157.3 373.0,156.2 373.8,157.4 374.5,157.7 375.2,157.0 376.0,157.6 376.8,158.2 377.5,157.2 378.2,157.7 379.0,156.8 379.8,157.8 380.5,157.4 381.2,158.6 382.0,157.2 382.8,158.6 383.5,158.1 384.2,159.1 385.0,156.1 385.8,158.1 386.5,157.1 387.2,158.9 388.0,157.7 388.8,156.3 389.5,158.4 390.2,157.6 391.0,158.7 391.8,161.0 392.5,158.2 393.2,159.2 394.0,158.2 394.8,158.8 395.5,158.3 396.2,158.3 397.0,158.9 397.8,156.1 398.5,158.9 399.2,158.5 400.0,157.9 400.8,158.6 401.5,157.6 402.2,160.1 403.0,159.4 403.8,158.8 404.5,159.4 405.2,159.4 406.0,157.7 406.8,160.1 407.5,159.1 408.2,159.6 409.0,159.1 409.8,158.5 410.5,160.1 411.2,159.1 412.0,160.2 412.8,159.4 413.5,159.4 414.2,159.9 415.0,158.3 415.8,161.0 416.5,159.2 417.2,160.1 418.0,159.3 418.8,160.2 419.5,159.1 420.2,160.2 421.0,159.3 421.8,160.4 422.5,159.7 423.2,160.7 424.0,160.0 424.8,161.9 425.5,160.2 426.2,160.7 427.0,159.5 427.8,160.0 428.5,160.9 429.2,159.5 430.0,161.0 430.8,160.6 431.5,161.1 432.2,160.6 433.0,161.2 433.8,160.1 434.5,161.3 435.2,162.5 436.0,161.0 436.8,161.8 437.5,161.1 438.2,161.8 439.0,161.2 439.8,161.7 440.5,160.4 441.2,161.2 442.0,161.9 442.8,161.5 443.5,161.4 444.2,162.7 445.0,160.9 445.8,162.2 446.5,161.7 447.2,161.8 448.0,161.8 448.8,162.4 449.5,161.0 450.2,162.4 451.0,162.0 451.8,163.8 452.5,161.6 453.2,162.8 454.0,160.8 454.8,163.9 455.5,161.4 456.2,163.2 457.0,161.8 457.8,163.1 458.5,162.3 459.2,163.2 460.0,163.7 460.8,164.3 461.5,161.1 462.2,163.1 463.0,162.7 463.8,163.2 464.5,162.4 465.2,164.0 466.0,161.5 466.8,163.7 467.5,164.5 468.2,162.9 469.0,163.5 469.8,162.5 470.5,163.6 471.2,163.1 472.0,164.2 472.8,162.9 473.5,165.5 474.2,163.4 475.0,163.9 475.8,162.3 476.5,164.9 477.2,163.2 478.0,165.5 478.8,163.7 479.5,164.3 480.2,163.6 481.0,164.3 481.8,164.6 482.5,163.7 483.2,164.3 484.0,164.5 484.8,165.3 485.5,163.9 486.2,164.6 487.0,163.9 487.8,164.4 488.5,163.2 489.2,163.8 490.0,164.6 490.8,163.9 491.5,164.9 492.2,164.9 493.0,164.1 493.8,164.6 494.5,164.1 495.2,165.2 496.0,164.2 496.8,163.6 497.5,164.9 498.2,164.1 499.0,164.8 499.8,165.4 500.5,162.1 501.2,164.8 502.0,164.0 502.8,164.9 503.5,164.3 504.2,165.3 505.0,165.6 505.8,163.4 506.5,167.3 507.2,164.0 508.0,165.1 508.8,166.1 509.5,164.5 510.2,163.6 511.0,165.1 511.8,164.4 512.5,165.3 513.2,164.8 514.0,165.6 514.8,164.4 515.5,165.3 516.2,164.7 517.0,165.7 517.8,164.1 518.5,167.2 519.2,165.1 520.0,166.0 520.8,165.1 521.5,166.3 522.2,165.8 523.0,165.0 523.8,165.6 524.5,165.9 525.2,164.9 526.0,165.9 526.8,165.8 527.5,166.2 528.2,165.0 529.0,166.4 529.8,166.0 530.5,165.4 531.2,166.0 532.0,165.0 532.8,166.5 533.5,165.5 534.2,166.0 535.0,165.5 535.8,166.1 536.5,165.6 537.2,166.5 538.0,164.9 538.8,166.4 539.5,165.5 540.2,167.0 541.0,165.7 541.8,165.4 542.5,166.7 543.2,164.8 544.0,165.4 544.8,166.4 545.5,166.3 546.2,165.0 547.0,166.3 547.8,165.6 548.5,165.1 549.2,166.4 550.0,168.7 550.8,165.8 551.5,167.1 552.2,167.0 553.0,166.0 553.8,166.7 554.5,163.8 555.2,166.5 556.0,167.4 556.8,165.5 557.5,165.9 558.2,166.9 559.0,166.9 559.8,166.2 560.5,166.8 561.2,165.9 562.0,166.7 562.8,166.3 563.5,166.9 564.2,166.0 565.0,166.8 565.8,166.4 566.5,166.2 567.2,167.6 568.0,166.4 568.8,166.4 569.5,166.0 570.2,167.3 571.0,164.2 571.8,167.0 572.5,166.2 573.2,166.5 574.0,165.7 574.8,168.5 575.5,167.9 576.2,166.2 577.0,167.1 577.8,166.4 578.5,167.2 579.2,167.5 580.0,165.6 580.8,168.0 581.5,166.7 582.2,168.3 583.0,166.5 583.8,167.2 584.5,166.7 585.2,167.7 586.0,168.3 586.8,166.8 587.5,167.3 588.2,165.7 589.0,167.6 589.8,166.8 590.5,167.7 591.2,167.3 592.0,166.8 592.8,167.3 593.5,166.4 594.2,167.8 595.0,167.5 595.8,166.8 596.5,167.7 597.2,165.4 598.0,167.7 598.8,166.8 599.5,166.5 600.2,167.3 601.0,166.9 601.8,167.4 602.5,166.9 603.2,167.5 604.0,166.5 604.8,167.5 605.5,167.5 606.2,166.9 607.0,166.9 607.8,167.9 608.5,164.7 609.2,167.3 610.0,166.7 610.8,167.4 611.5,167.5 612.2,168.0 613.0,167.0 613.8,166.6 614.5,166.7 615.2,166.7 616.0,165.7 616.8,167.5 617.5,167.7 618.2,167.5 619.0,166.8 619.8,167.0 620.5,167.5 621.7,167.3" stroke="#cc3311" stroke-width="1.9" stroke-opacity=".3"/>
<polyline points="106.0,-20.4 106.8,-11.8 107.5,-4.5 108.2,3.3 109.0,11.2 109.8,21.0 110.5,23.1 111.2,28.0 112.0,29.2 112.8,31.0 113.5,36.2 114.2,38.0 115.0,41.5 115.8,43.7 116.5,46.7 117.2,47.8 118.0,51.2 118.8,52.9 119.5,53.7 120.2,57.3 121.0,58.5 121.8,63.0 122.5,62.3 123.2,64.2 124.0,65.1 124.8,66.5 125.5,69.9 126.2,69.3 127.0,71.8 127.8,72.3 128.5,73.7 129.2,76.0 130.0,75.9 130.8,78.2 131.5,77.9 132.2,78.6 133.0,80.2 133.8,80.3 134.5,82.4 135.2,82.0 136.0,83.7 136.8,82.8 137.5,87.6 138.2,85.2 139.0,87.2 139.8,87.4 140.5,87.1 141.2,90.2 142.0,88.2 142.8,90.5 143.5,90.3 144.2,92.5 145.0,89.3 145.8,95.1 146.5,93.0 147.2,95.0 148.0,94.4 148.8,96.5 149.5,96.7 150.2,94.7 151.0,97.6 151.8,97.3 152.5,99.0 153.2,98.9 154.0,100.1 154.8,100.0 155.5,101.5 156.2,102.4 157.0,102.4 157.8,102.3 158.5,103.2 159.2,102.9 160.0,104.8 160.8,103.3 161.5,104.4 162.2,105.4 163.0,103.8 163.8,104.8 164.5,106.8 165.2,105.5 166.0,106.8 166.8,105.9 167.5,107.1 168.2,106.8 169.0,107.6 169.8,108.9 170.5,107.8 171.2,108.6 172.0,108.3 172.8,107.9 173.5,110.0 174.2,110.4 175.0,109.9 175.8,110.9 176.5,110.5 177.2,110.4 178.0,112.5 178.8,111.8 179.5,112.1 180.2,113.1 181.0,112.5 181.8,114.3 182.5,113.5 183.2,113.7 184.0,115.0 184.8,114.4 185.5,116.1 186.2,118.2 187.0,113.8 187.8,116.3 188.5,117.3 189.2,117.1 190.0,117.9 190.8,117.6 191.5,118.4 192.2,119.2 193.0,119.3 193.8,118.7 194.5,118.6 195.2,120.9 196.0,119.2 196.8,120.5 197.5,121.8 198.2,120.1 199.0,121.3 199.8,120.7 200.5,121.5 201.2,121.8 202.0,120.8 202.8,122.0 203.5,121.7 204.2,124.2 205.0,122.1 205.8,122.7 206.5,121.8 207.2,123.7 208.0,122.7 208.8,124.1 209.5,122.4 210.2,123.7 211.0,122.8 211.8,123.2 212.5,124.7 213.2,123.2 214.0,125.0 214.8,124.8 215.5,123.7 216.2,125.4 217.0,125.2 217.8,124.3 218.5,125.4 219.2,125.5 220.0,123.7 220.8,125.5 221.5,124.6 222.2,124.6 223.0,125.3 223.8,126.7 224.5,125.1 225.2,125.4 226.0,127.3 226.8,127.6 227.5,125.4 228.2,126.9 229.0,125.9 229.8,129.0 230.5,126.7 231.2,128.9 232.0,126.5 232.8,128.2 233.5,128.0 234.2,127.7 235.0,128.3 235.8,125.8 236.5,128.1 237.2,129.3 238.0,128.5 238.8,129.2 239.5,128.9 240.2,129.7 241.0,129.7 241.8,128.3 242.5,130.2 243.2,129.7 244.0,130.7 244.8,129.8 245.5,131.2 246.2,129.8 247.0,130.9 247.8,129.4 248.5,131.3 249.2,131.5 250.0,131.2 250.8,131.8 251.5,130.9 252.2,132.1 253.0,131.7 253.8,132.3 254.5,129.9 255.2,132.6 256.0,132.2 256.8,132.8 257.5,132.2 258.2,133.4 259.0,131.1 259.8,132.5 260.5,135.5 261.2,131.2 262.0,134.1 262.8,133.9 263.5,133.5 264.2,134.5 265.0,132.8 265.8,134.4 266.5,132.8 267.2,134.8 268.0,134.4 268.8,135.2 269.5,136.0 270.2,139.0 271.0,140.5 271.8,143.0 272.5,143.3 273.2,144.6 274.0,143.5 274.8,144.2 275.5,143.5 276.2,144.8 277.0,143.6 277.8,144.8 278.5,143.6 279.2,144.3 280.0,145.2 280.8,145.4 281.5,145.6 282.2,145.0 283.0,145.7 283.8,145.7 284.5,145.3 285.2,145.8 286.0,145.5 286.8,147.0 287.5,145.5 288.2,146.5 289.0,146.5 289.8,146.6 290.5,146.7 291.2,146.3 292.0,146.4 292.8,147.3 293.5,147.3 294.2,146.6 295.0,147.2 295.8,146.5 296.5,147.7 297.2,147.0 298.0,147.6 298.8,146.9 299.5,146.9 300.2,146.5 301.0,148.2 301.8,148.3 302.5,146.8 303.2,148.1 304.0,147.8 304.8,149.8 305.5,148.0 306.2,148.4 307.0,149.4 307.8,147.9 308.5,148.7 309.2,147.0 310.0,149.3 310.8,147.8 311.5,148.2 312.2,149.1 313.0,149.2 313.8,149.6 314.5,149.8 315.2,148.1 316.0,149.6 316.8,149.0 317.5,149.7 318.2,149.2 319.0,149.3 319.8,151.4 320.5,149.5 321.2,149.9 322.0,150.3 322.8,149.3 323.5,150.1 324.2,149.8 325.0,150.6 325.8,149.6 326.5,150.7 327.2,149.6 328.0,148.6 328.8,150.1 329.5,151.2 330.2,149.6 331.0,151.2 331.8,150.3 332.5,151.1 333.2,150.3 334.0,151.1 334.8,150.8 335.5,151.3 336.2,150.2 337.0,150.9 337.8,151.5 338.5,151.8 339.2,151.2 340.0,151.7 340.8,151.4 341.5,152.7 342.2,150.9 343.0,152.0 343.8,152.2 344.5,151.5 345.2,152.7 346.0,151.9 346.8,153.0 347.5,152.1 348.2,152.5 349.0,152.2 349.8,152.7 350.5,152.1 351.2,152.8 352.0,153.1 352.8,152.6 353.5,152.6 354.2,153.1 355.0,152.4 355.8,153.3 356.5,152.9 357.2,153.1 358.0,152.8 358.8,154.3 359.5,154.4 360.2,155.3 361.0,155.3 361.8,156.4 362.5,156.2 363.2,157.8 364.0,155.0 364.8,156.7 365.5,156.4 366.2,157.1 367.0,156.4 367.8,157.0 368.5,157.1 369.2,156.5 370.0,157.1 370.8,156.6 371.5,156.1 372.2,157.2 373.0,156.4 373.8,157.4 374.5,157.6 375.2,157.1 376.0,157.5 376.8,158.1 377.5,157.3 378.2,157.7 379.0,157.0 379.8,157.8 380.5,157.4 381.2,158.4 382.0,157.3 382.8,158.4 383.5,158.1 384.2,158.8 385.0,156.5 385.8,158.1 386.5,157.3 387.2,158.7 388.0,157.8 388.8,156.7 389.5,158.3 390.2,157.7 391.0,158.7 391.8,160.4 392.5,158.3 393.2,159.0 394.0,158.3 394.8,158.7 395.5,158.4 396.2,158.4 397.0,158.9 397.8,156.6 398.5,158.9 399.2,158.6 400.0,158.1 400.8,158.6 401.5,157.8 402.2,159.9 403.0,159.3 403.8,158.9 404.5,159.3 405.2,159.4 406.0,158.0 406.8,159.9 407.5,159.1 408.2,159.5 409.0,159.2 409.8,158.7 410.5,159.9 411.2,159.1 412.0,160.1 412.8,159.4 413.5,159.4 414.2,159.9 415.0,158.5 415.8,160.7 416.5,159.4 417.2,160.0 418.0,159.4 418.8,160.1 419.5,159.3 420.2,160.2 421.0,159.4 421.8,160.3 422.5,159.8 423.2,160.6 424.0,160.0 424.8,161.6 425.5,160.3 426.2,160.7 427.0,159.7 427.8,160.1 428.5,160.8 429.2,159.8 430.0,160.9 430.8,160.6 431.5,161.1 432.2,160.7 433.0,161.2 433.8,160.3 434.5,161.3 435.2,162.2 436.0,161.1 436.8,161.7 437.5,161.1 438.2,161.7 439.0,161.3 439.8,161.7 440.5,160.6 441.2,161.3 442.0,161.9 442.8,161.5 443.5,161.5 444.2,162.6 445.0,161.1 445.8,162.1 446.5,161.8 447.2,161.8 448.0,161.8 448.8,162.4 449.5,161.2 450.2,162.4 451.0,162.0 451.8,163.5 452.5,161.7 453.2,162.7 454.0,161.1 454.8,163.6 455.5,161.6 456.2,163.0 457.0,162.0 457.8,163.0 458.5,162.3 459.2,163.1 460.0,163.5 460.8,164.0 461.5,161.5 462.2,163.0 463.0,162.7 463.8,163.2 464.5,162.5 465.2,163.8 466.0,161.8 466.8,163.6 467.5,164.2 468.2,162.9 469.0,163.5 469.8,162.7 470.5,163.6 471.2,163.2 472.0,164.0 472.8,163.0 473.5,165.1 474.2,163.4 475.0,163.8 475.8,162.6 476.5,164.6 477.2,163.3 478.0,165.2 478.8,163.7 479.5,164.2 480.2,163.7 481.0,164.2 481.8,164.4 482.5,163.8 483.2,164.2 484.0,164.4 484.8,165.0 485.5,163.9 486.2,164.5 487.0,164.0 487.8,164.4 488.5,163.4 489.2,163.9 490.0,164.5 490.8,164.0 491.5,164.8 492.2,164.7 493.0,164.2 493.8,164.6 494.5,164.2 495.2,165.0 496.0,164.3 496.8,163.7 497.5,164.8 498.2,164.2 499.0,164.7 499.8,165.2 500.5,162.6 501.2,164.7 502.0,164.1 502.8,164.8 503.5,164.4 504.2,165.2 505.0,165.4 505.8,163.7 506.5,166.8 507.2,164.1 508.0,165.1 508.8,165.9 509.5,164.6 510.2,163.9 511.0,165.1 511.8,164.5 512.5,165.2 513.2,164.8 514.0,165.5 514.8,164.6 515.5,165.3 516.2,164.8 517.0,165.6 517.8,164.3 518.5,166.8 519.2,165.1 520.0,165.9 520.8,165.1 521.5,166.1 522.2,165.7 523.0,165.1 523.8,165.6 524.5,165.8 525.2,165.0 526.0,165.8 526.8,165.7 527.5,166.0 528.2,165.1 529.0,166.2 529.8,165.9 530.5,165.4 531.2,165.9 532.0,165.2 532.8,166.3 533.5,165.5 534.2,165.9 535.0,165.6 535.8,166.0 536.5,165.6 537.2,166.4 538.0,165.1 538.8,166.3 539.5,165.6 540.2,166.8 541.0,165.8 541.8,165.5 542.5,166.6 543.2,165.0 544.0,165.5 544.8,166.3 545.5,166.3 546.2,165.2 547.0,166.2 547.8,165.7 548.5,165.3 549.2,166.3 550.0,168.2 550.8,165.9 551.5,166.9 552.2,166.9 553.0,166.1 553.8,166.6 554.5,164.3 555.2,166.5 556.0,167.2 556.8,165.7 557.5,166.0 558.2,166.8 559.0,166.8 559.8,166.2 560.5,166.7 561.2,166.0 562.0,166.7 562.8,166.3 563.5,166.9 564.2,166.1 565.0,166.8 565.8,166.4 566.5,166.3 567.2,167.4 568.0,166.5 568.8,166.5 569.5,166.2 570.2,167.2 571.0,164.7 571.8,166.9 572.5,166.3 573.2,166.6 574.0,165.9 574.8,168.2 575.5,167.7 576.2,166.4 577.0,167.1 577.8,166.5 578.5,167.2 579.2,167.4 580.0,165.9 580.8,167.8 581.5,166.7 582.2,168.1 583.0,166.6 583.8,167.1 584.5,166.7 585.2,167.6 586.0,168.0 586.8,166.8 587.5,167.2 588.2,166.0 589.0,167.5 589.8,166.8 590.5,167.6 591.2,167.3 592.0,166.8 592.8,167.2 593.5,166.5 594.2,167.7 595.0,167.4 595.8,166.9 596.5,167.5 597.2,165.7 598.0,167.6 598.8,166.8 599.5,166.7 600.2,167.3 601.0,166.9 601.8,167.3 602.5,166.9 603.2,167.4 604.0,166.7 604.8,167.4 605.5,167.4 606.2,167.0 607.0,167.0 607.8,167.8 608.5,165.2 609.2,167.3 610.0,166.8 610.8,167.4 611.5,167.4 612.2,167.9 613.0,167.0 613.8,166.7 614.5,166.8 615.2,166.8 616.0,166.0 616.8,167.4 617.5,167.6 618.2,167.5 619.0,166.9 619.8,167.1 620.5,167.5 621.7,167.3" stroke="#cc3311" stroke-width="1.3"/>
<polyline points="106.0,-21.4 109.4,19.7 113.3,40.5 116.5,1.9 119.6,57.6 121.2,49.7 123.5,72.1 125.9,64.4 127.4,58.7 129.8,83.3 132.1,70.2 133.7,82.5 135.3,78.6 137.6,89.0 139.0,97.8 140.4,84.7 142.0,111.2 143.5,97.9 145.0,90.8 146.6,112.5 147.8,100.9 149.0,94.2 151.3,110.4 152.5,104.0 153.7,97.0 156.0,113.7 157.2,106.0 158.4,100.2 160.8,117.0 162.0,103.4 163.1,84.4 164.2,80.3 165.5,98.6 167.0,116.6 168.5,107.6 170.2,101.8 172.5,121.7 173.7,111.9 174.9,105.0 177.2,123.3 178.4,114.0 179.6,107.0 181.1,126.5 182.2,117.4 183.0,113.6 183.8,124.5 184.5,128.6 185.2,100.1 186.0,118.5 186.8,112.9 187.5,120.8 188.2,116.0 189.0,121.1 189.8,113.5 190.5,124.4 191.2,114.9 192.0,122.5 192.8,116.1 193.5,131.2 194.2,123.3 195.0,111.9 195.8,123.0 196.5,124.2 197.2,116.8 198.0,134.6 198.8,143.9 199.5,121.8 200.2,119.0 201.0,125.3 201.8,126.6 202.5,121.7 203.2,117.6 204.0,128.2 204.8,119.2 205.5,126.1 206.2,122.5 207.0,112.1 207.8,129.7 208.5,123.2 209.2,127.2 210.0,123.5 210.8,131.2 211.5,124.0 212.2,127.9 213.0,128.2 213.8,132.0 214.5,123.1 215.2,146.7 216.0,122.7 216.8,128.8 217.5,107.2 218.2,133.8 219.0,147.9 219.8,115.1 220.5,129.5 221.2,117.6 222.0,129.8 222.8,125.0 223.5,126.5 224.2,126.7 225.0,136.5 225.8,124.1 226.5,131.1 227.2,133.2 228.0,127.9 228.8,127.8 229.5,132.1 230.2,122.2 231.0,96.7 231.8,134.1 232.5,132.9 233.2,133.8 234.0,129.3 234.8,129.2 235.5,133.4 236.2,126.9 237.0,133.6 237.8,129.0 238.5,126.8 239.2,137.0 240.0,144.8 240.8,131.5 241.5,140.0 242.2,143.9 243.0,131.9 243.8,135.4 244.5,131.8 245.2,149.7 246.0,130.5 246.8,136.0 247.5,131.7 248.2,125.1 249.0,136.2 249.8,133.1 250.5,154.1 251.2,134.4 252.0,137.4 252.8,148.6 253.5,129.3 254.2,137.7 255.0,134.5 255.8,138.6 256.5,127.8 257.2,145.7 258.0,143.9 258.8,135.8 259.5,139.3 260.2,131.1 261.0,141.2 261.8,133.8 262.5,140.0 263.2,131.8 264.0,140.8 264.8,137.2 265.5,144.4 266.2,136.6 267.0,144.7 267.8,142.5 268.5,138.2 269.2,144.0 270.0,140.7 270.8,148.7 271.5,147.8 272.2,140.6 273.0,152.5 273.8,149.7 274.5,153.6 275.2,150.9 276.0,153.4 276.8,164.5 277.5,150.8 278.2,154.9 279.0,144.3 279.8,156.7 280.5,152.1 281.2,145.7 282.0,156.4 282.8,152.4 283.5,154.8 284.2,151.1 285.0,155.1 285.8,152.5 286.5,156.8 287.2,150.4 288.0,153.2 288.8,155.9 289.5,153.8 290.2,153.8 291.0,158.1 291.8,147.8 292.5,149.0 293.2,156.3 294.0,150.4 294.8,163.6 295.5,152.3 296.2,156.4 297.0,150.0 297.8,159.1 298.5,157.8 299.2,158.0 300.0,152.9 300.8,159.0 301.5,152.8 302.2,159.1 303.0,154.3 303.8,157.0 304.5,157.1 305.2,157.2 306.0,154.8 306.8,158.0 307.5,152.8 308.2,160.2 309.0,151.5 309.8,157.2 310.5,152.5 311.2,159.5 312.0,154.0 312.8,158.1 313.5,153.3 314.2,159.8 315.0,154.8 315.8,157.7 316.5,155.5 317.2,159.8 318.0,167.6 318.8,158.9 319.5,154.2 320.2,158.3 321.0,155.9 321.8,158.2 322.5,155.6 323.2,152.5 324.0,158.2 324.8,159.3 325.5,160.9 326.2,153.9 327.0,156.1 327.8,156.0 328.5,158.8 329.2,155.1 330.0,159.2 330.8,154.6 331.5,163.7 332.2,156.8 333.0,153.3 333.8,158.7 334.5,156.5 335.2,160.0 336.0,156.6 336.8,156.4 337.5,158.8 338.2,158.9 339.0,156.5 339.8,163.3 340.5,159.6 341.2,162.7 342.0,146.7 342.8,159.9 343.5,155.7 344.2,155.6 345.0,158.7 345.8,156.4 346.5,165.5 347.2,153.3 348.0,152.4 348.8,158.5 349.5,156.5 350.2,156.4 351.0,152.8 351.8,158.6 352.5,152.8 353.2,158.7 354.0,156.5 354.8,162.1 355.5,154.7 356.2,159.0 357.0,159.4 357.8,159.7 358.5,164.0 359.2,159.3 360.0,162.4 360.8,161.1 361.5,158.3 362.2,162.3 363.0,165.1 363.8,163.0 364.5,162.8 365.2,156.7 366.0,168.8 366.8,163.6 367.5,163.4 368.2,163.5 369.0,168.6 369.8,166.3 370.5,166.3 371.2,160.5 372.0,166.5 372.8,161.6 373.5,173.4 374.2,168.1 375.0,163.7 375.8,162.0 376.5,166.9 377.2,162.4 378.0,167.1 378.8,163.0 379.5,167.3 380.2,168.8 381.0,160.2 381.8,168.9 382.5,162.2 383.2,167.5 384.0,164.9 384.8,167.8 385.5,165.5 386.2,167.9 387.0,169.8 387.8,165.8 388.5,178.6 389.2,168.7 390.0,165.9 390.8,164.3 391.5,168.1 392.2,164.8 393.0,171.8 393.8,164.9 394.5,169.7 395.2,164.7 396.0,169.2 396.8,170.5 397.5,163.8 398.2,168.4 399.0,166.4 399.8,172.9 400.5,161.3 401.2,179.0 402.0,174.2 402.8,166.9 403.5,174.2 404.2,167.0 405.0,169.0 405.8,166.8 406.5,169.4 407.2,164.5 408.0,165.9 408.8,169.7 409.5,156.6 410.2,168.8 411.0,164.6 411.8,179.8 412.5,167.8 413.2,169.6 414.0,167.4 414.8,171.1 415.5,163.7 416.2,167.2 417.0,166.9 417.8,167.5 418.5,170.9 419.2,170.1 420.0,167.2 420.8,170.0 421.5,167.9 422.2,170.1 423.0,166.1 423.8,170.1 424.5,167.0 425.2,167.9 426.0,173.6 426.8,168.3 427.5,172.4 428.2,170.6 429.0,164.8 429.8,165.3 430.5,166.2 431.2,170.5 432.0,167.7 432.8,171.6 433.5,166.4 434.2,167.9 435.0,171.0 435.8,166.0 436.5,170.6 437.2,168.5 438.0,160.1 438.8,172.2 439.5,168.7 440.2,172.3 441.0,168.8 441.8,180.6 442.5,164.2 443.2,170.8 444.0,168.3 444.8,158.8 445.5,170.6 446.2,168.5 447.0,172.9 447.8,171.5 448.5,173.3 449.2,169.2 450.0,171.4 450.8,167.9 451.5,171.5 452.2,168.1 453.0,168.0 453.8,171.5 454.5,165.0 455.2,173.9 456.0,167.1 456.8,179.0 457.5,167.8 458.2,171.8 459.0,166.4 459.8,173.6 460.5,172.2 461.2,175.0 462.0,167.6 462.8,172.0 463.5,164.4 464.2,173.8 465.0,173.4 465.8,170.1 466.5,172.6 467.2,164.6 468.0,175.7 468.8,169.5 469.5,173.0 470.2,168.1 471.0,174.8 471.8,168.3 472.5,173.4 473.2,167.0 474.0,178.2 474.8,170.0 475.5,174.2 476.2,165.7 477.0,175.6 477.8,168.7 478.5,169.0 479.2,174.9 480.0,171.0 480.8,173.1 481.5,178.3 482.2,176.0 483.0,170.4 483.8,173.7 484.5,174.9 485.2,171.0 486.0,167.3 486.8,174.6 487.5,173.6 488.2,169.4 489.0,175.9 489.8,164.9 490.5,182.6 491.2,171.5 492.0,173.6 492.8,173.7 493.5,171.4 494.2,174.0 495.0,175.5 495.8,174.3 496.5,176.4 497.2,170.2 498.0,173.7 498.8,171.6 499.5,171.5 500.2,171.2 501.0,173.9 501.8,171.3 502.5,171.6 503.2,174.0 504.0,171.5 504.8,181.8 505.5,176.2 506.2,175.8 507.0,171.8 507.8,174.1 508.5,172.0 509.2,174.2 510.0,170.9 510.8,171.4 511.5,179.0 512.2,171.1 513.0,172.0 513.8,170.5 514.5,174.3 515.2,170.7 516.0,175.1 516.8,184.6 517.5,171.9 518.2,180.4 519.0,172.7 519.8,172.3 520.5,185.0 521.2,169.2 522.0,176.9 522.8,168.7 523.5,177.7 524.2,171.9 525.0,174.8 525.8,171.1 526.5,174.8 527.2,170.4 528.0,180.9 528.8,178.6 529.5,175.3 530.2,172.8 531.0,175.3 531.8,171.7 532.5,175.0 533.2,172.2 534.0,176.5 534.8,178.1 535.5,173.1 536.2,177.5 537.0,177.9 537.8,171.2 538.5,175.4 539.2,179.8 540.0,171.5 540.8,176.5 541.5,173.3 542.2,175.5 543.0,173.3 543.8,175.5 544.5,173.3 545.2,177.5 546.0,172.2 546.8,175.6 547.5,172.7 548.2,175.9 549.0,171.7 549.8,177.3 550.5,173.1 551.2,176.9 552.0,171.1 552.8,169.0 553.5,176.9 554.2,173.5 555.0,179.2 555.8,172.6 556.5,177.1 557.2,170.8 558.0,173.6 558.8,178.8 559.5,171.5 560.2,176.6 561.0,173.7 561.8,176.9 562.5,172.3 563.2,173.9 564.0,185.9 564.8,174.5 565.5,176.4 566.2,174.2 567.0,181.1 567.8,174.5 568.5,176.5 569.2,171.3 570.0,176.7 570.8,170.9 571.5,176.4 572.2,174.4 573.0,176.6 573.8,174.3 574.5,176.7 575.2,174.5 576.0,177.6 576.8,164.3 577.5,176.3 578.2,170.6 579.0,173.5 579.8,179.6 580.5,172.2 581.2,176.8 582.0,177.6 582.8,179.4 583.5,174.9 584.2,177.0 585.0,174.2 585.8,179.4 586.5,172.7 587.2,181.8 588.0,175.1 588.8,177.1 589.5,178.0 590.2,170.8 591.0,176.9 591.8,175.0 592.5,172.9 593.2,183.0 594.0,165.0 594.8,176.7 595.5,177.8 596.2,177.7 597.0,172.6 597.8,177.2 598.5,173.5 599.2,180.3 600.0,173.2 600.8,178.8 601.5,177.6 602.2,174.8 603.0,179.5 603.8,174.6 604.5,177.9 605.2,172.9 606.0,177.7 606.8,174.1 607.5,178.0 608.2,174.9 609.0,180.1 609.8,173.2 610.5,173.5 611.2,177.5 612.0,173.7 612.8,180.0 613.5,171.1 614.2,187.8 615.0,176.1 615.8,177.8 616.5,179.5 617.2,174.2 618.0,174.8 618.8,178.7 619.5,170.4 620.2,177.6 621.7,176.8" stroke="#0077bb" stroke-width="2.5" stroke-opacity=".3"/>
<polyline points="106.0,-20.0 109.4,20.0 113.3,40.4 116.5,8.0 119.6,57.6 121.2,51.3 123.5,71.7 125.9,65.5 127.4,60.8 129.8,82.7 132.1,71.7 133.7,82.7 135.3,79.6 137.6,89.0 139.0,97.0 140.4,86.0 142.0,109.5 143.5,98.0 145.0,92.0 146.6,111.0 147.8,101.0 149.0,95.3 151.3,109.5 152.5,104.0 153.7,98.0 156.0,112.6 157.2,106.0 158.4,101.0 160.8,115.7 162.0,104.0 163.1,87.5 164.2,84.0 165.5,100.0 167.0,115.7 168.5,108.0 170.2,103.0 172.5,120.4 173.7,112.0 174.9,106.0 177.2,122.0 178.4,114.0 179.6,108.0 181.1,125.0 182.2,117.0 183.0,114.1 183.8,122.8 184.5,126.2 185.2,103.5 186.0,118.2 186.8,113.8 187.5,120.2 188.2,116.4 189.0,120.6 189.8,114.5 190.5,123.3 191.2,115.8 192.0,121.9 192.8,116.9 193.5,129.0 194.2,122.7 195.0,113.7 195.8,122.6 196.5,123.6 197.2,117.8 198.0,132.1 198.8,139.6 199.5,122.0 200.2,119.8 201.0,124.9 201.8,126.0 202.5,122.1 203.2,118.9 204.0,127.4 204.8,120.2 205.5,125.8 206.2,122.9 207.0,114.6 207.8,128.8 208.5,123.6 209.2,126.8 210.0,123.8 210.8,130.0 211.5,124.4 212.2,127.5 213.0,127.8 213.8,130.9 214.5,123.8 215.2,142.7 216.0,123.5 216.8,128.5 217.5,111.2 218.2,132.5 219.0,143.9 219.8,117.6 220.5,129.2 221.2,119.7 222.0,129.5 222.8,125.7 223.5,126.9 224.2,127.1 225.0,135.0 225.8,125.1 226.5,130.7 227.2,132.5 228.0,128.3 228.8,128.2 229.5,131.7 230.2,123.8 231.0,103.4 231.8,133.4 232.5,132.5 233.2,133.2 234.0,129.7 234.8,129.7 235.5,133.0 236.2,127.9 237.0,133.2 237.8,129.6 238.5,127.9 239.2,136.1 240.0,142.4 240.8,131.7 241.5,138.6 242.2,141.8 243.0,132.2 243.8,135.0 244.5,132.2 245.2,146.6 246.0,131.2 246.8,135.6 247.5,132.2 248.2,127.0 249.0,135.9 249.8,133.5 250.5,150.3 251.2,134.6 252.0,137.0 252.8,146.0 253.5,130.6 254.2,137.4 255.0,134.9 255.8,138.2 256.5,129.6 257.2,144.0 258.0,142.5 258.8,136.1 259.5,139.0 260.2,132.5 261.0,140.6 261.8,134.7 262.5,139.7 263.2,133.1 264.0,140.4 264.8,137.5 265.5,143.4 266.2,137.1 267.0,143.7 267.8,141.9 268.5,138.5 269.2,143.4 270.0,141.3 270.8,148.3 271.5,148.2 272.2,142.8 273.0,152.3 273.8,150.1 274.5,153.3 275.2,151.1 276.0,153.1 276.8,162.1 277.5,151.1 278.2,154.5 279.0,146.0 279.8,156.0 280.5,152.3 281.2,147.2 282.0,155.8 282.8,152.6 283.5,154.6 284.2,151.6 285.0,154.9 285.8,152.8 286.5,156.3 287.2,151.2 288.0,153.5 288.8,155.7 289.5,154.0 290.2,154.0 291.0,157.5 291.8,149.3 292.5,150.2 293.2,156.1 294.0,151.4 294.8,161.9 295.5,152.9 296.2,156.2 297.0,151.1 297.8,158.4 298.5,157.4 299.2,157.5 300.0,153.5 300.8,158.3 301.5,153.4 302.2,158.5 303.0,154.6 303.8,156.7 304.5,156.9 305.2,157.0 306.0,155.1 306.8,157.6 307.5,153.5 308.2,159.4 309.0,152.5 309.8,157.0 310.5,153.2 311.2,158.9 312.0,154.5 312.8,157.8 313.5,153.9 314.2,159.1 315.0,155.1 315.8,157.5 316.5,155.8 317.2,159.2 318.0,165.4 318.8,158.5 319.5,154.7 320.2,158.0 321.0,156.1 321.8,158.0 322.5,155.9 323.2,153.4 324.0,158.0 324.8,158.9 325.5,160.2 326.2,154.6 327.0,156.4 327.8,156.3 328.5,158.6 329.2,155.6 330.0,158.9 330.8,155.2 331.5,162.5 332.2,157.0 333.0,154.2 333.8,158.5 334.5,156.8 335.2,159.5 336.0,156.8 336.8,156.7 337.5,158.6 338.2,158.7 339.0,156.8 339.8,162.2 340.5,159.3 341.2,161.7 342.0,148.9 342.8,159.4 343.5,156.1 344.2,156.0 345.0,158.5 345.8,156.6 346.5,164.0 347.2,154.2 348.0,153.4 348.8,158.4 349.5,156.7 350.2,156.6 351.0,153.8 351.8,158.4 352.5,153.8 353.2,158.5 354.0,156.7 354.8,161.2 355.5,155.3 356.2,158.8 357.0,159.2 357.8,159.4 358.5,163.0 359.2,159.4 360.0,162.1 360.8,161.3 361.5,159.3 362.2,162.6 363.0,164.9 363.8,163.2 364.5,163.1 365.2,158.2 366.0,167.9 366.8,163.8 367.5,163.7 368.2,163.8 369.0,167.9 369.8,166.1 370.5,166.1 371.2,161.4 372.0,166.2 372.8,162.3 373.5,171.8 374.2,167.6 375.0,164.1 375.8,162.8 376.5,166.7 377.2,163.1 378.0,166.9 378.8,163.7 379.5,167.1 380.2,168.3 381.0,161.5 381.8,168.4 382.5,163.1 383.2,167.3 384.0,165.2 384.8,167.5 385.5,165.8 386.2,167.6 387.0,169.2 387.8,166.0 388.5,176.2 389.2,168.3 390.0,166.1 390.8,164.9 391.5,167.9 392.2,165.3 393.0,170.9 393.8,165.4 394.5,169.2 395.2,165.2 396.0,168.8 396.8,169.9 397.5,164.5 398.2,168.2 399.0,166.6 399.8,171.8 400.5,162.6 401.2,176.7 402.0,172.9 402.8,167.0 403.5,172.9 404.2,167.1 405.0,168.8 405.8,167.0 406.5,169.1 407.2,165.2 408.0,166.3 408.8,169.4 409.5,158.9 410.2,168.7 411.0,165.4 411.8,177.5 412.5,167.9 413.2,169.3 414.0,167.6 414.8,170.6 415.5,164.7 416.2,167.5 417.0,167.3 417.8,167.7 418.5,170.5 419.2,169.9 420.0,167.5 420.8,169.8 421.5,168.1 422.2,169.9 423.0,166.7 423.8,169.9 424.5,167.4 425.2,168.1 426.0,172.7 426.8,168.4 427.5,171.7 428.2,170.3 429.0,165.7 429.8,166.1 430.5,166.8 431.2,170.3 432.0,168.0 432.8,171.2 433.5,167.0 434.2,168.2 435.0,170.7 435.8,166.7 436.5,170.4 437.2,168.8 438.0,162.0 438.8,171.7 439.5,168.9 440.2,171.8 441.0,169.0 441.8,178.5 442.5,165.3 443.2,170.6 444.0,168.6 444.8,161.1 445.5,170.5 446.2,168.8 447.0,172.3 447.8,171.2 448.5,172.7 449.2,169.4 450.0,171.2 450.8,168.4 451.5,171.2 452.2,168.6 453.0,168.5 453.8,171.3 454.5,166.1 455.2,173.2 456.0,167.8 456.8,177.3 457.5,168.4 458.2,171.6 459.0,167.3 459.8,173.1 460.5,171.9 461.2,174.2 462.0,168.3 462.8,171.8 463.5,165.7 464.2,173.3 465.0,173.0 465.8,170.3 466.5,172.4 467.2,166.0 468.0,174.8 468.8,169.8 469.5,172.7 470.2,168.8 471.0,174.2 471.8,168.9 472.5,173.0 473.2,168.0 474.0,176.9 474.8,170.3 475.5,173.7 476.2,166.9 477.0,174.8 477.8,169.3 478.5,169.6 479.2,174.3 480.0,171.2 480.8,172.9 481.5,177.1 482.2,175.2 483.0,170.8 483.8,173.4 484.5,174.4 485.2,171.2 486.0,168.3 486.8,174.1 487.5,173.3 488.2,170.0 489.0,175.2 489.8,166.4 490.5,180.6 491.2,171.7 492.0,173.3 492.8,173.5 493.5,171.6 494.2,173.7 495.0,174.9 495.8,173.9 496.5,175.6 497.2,170.7 498.0,173.5 498.8,171.8 499.5,171.8 500.2,171.5 501.0,173.7 501.8,171.6 502.5,171.9 503.2,173.8 504.0,171.8 504.8,180.1 505.5,175.6 506.2,175.3 507.0,172.1 507.8,173.9 508.5,172.2 509.2,174.0 510.0,171.3 510.8,171.8 511.5,177.8 512.2,171.5 513.0,172.2 513.8,171.1 514.5,174.1 515.2,171.2 516.0,174.7 516.8,182.4 517.5,172.2 518.2,179.0 519.0,172.8 519.8,172.5 520.5,182.7 521.2,170.1 522.0,176.3 522.8,169.7 523.5,176.9 524.2,172.3 525.0,174.6 525.8,171.6 526.5,174.6 527.2,171.1 528.0,179.5 528.8,177.7 529.5,175.0 530.2,173.0 531.0,175.0 531.8,172.2 532.5,174.8 533.2,172.6 534.0,176.0 534.8,177.3 535.5,173.3 536.2,176.8 537.0,177.2 537.8,171.8 538.5,175.1 539.2,178.7 540.0,172.1 540.8,176.0 541.5,173.5 542.2,175.2 543.0,173.5 543.8,175.3 544.5,173.6 545.2,176.9 546.0,172.6 546.8,175.4 547.5,173.0 548.2,175.7 549.0,172.2 549.8,176.8 550.5,173.4 551.2,176.5 552.0,171.9 552.8,170.2 553.5,176.5 554.2,173.7 555.0,178.4 555.8,173.1 556.5,176.7 557.2,171.6 558.0,173.9 558.8,178.0 559.5,172.2 560.2,176.3 561.0,174.0 561.8,176.6 562.5,172.9 563.2,174.1 564.0,183.7 564.8,174.7 565.5,176.2 566.2,174.4 567.0,179.9 567.8,174.7 568.5,176.3 569.2,172.1 570.0,176.5 570.8,171.8 571.5,176.2 572.2,174.6 573.0,176.4 573.8,174.6 574.5,176.5 575.2,174.8 576.0,177.2 576.8,166.6 577.5,176.2 578.2,171.6 579.0,173.9 579.8,178.8 580.5,172.9 581.2,176.6 582.0,177.3 582.8,178.7 583.5,175.1 584.2,176.8 585.0,174.5 585.8,178.7 586.5,173.4 587.2,180.7 588.0,175.3 588.8,176.9 589.5,177.6 590.2,171.8 591.0,176.7 591.8,175.2 592.5,173.5 593.2,181.6 594.0,167.2 594.8,176.6 595.5,177.4 596.2,177.4 597.0,173.3 597.8,177.0 598.5,174.0 599.2,179.5 600.0,173.8 600.8,178.3 601.5,177.3 602.2,175.1 603.0,178.8 603.8,175.0 604.5,177.6 605.2,173.6 606.0,177.5 606.8,174.6 607.5,177.7 608.2,175.2 609.0,179.3 609.8,173.9 610.5,174.1 611.2,177.3 612.0,174.3 612.8,179.3 613.5,172.2 614.2,185.5 615.0,176.2 615.8,177.5 616.5,178.9 617.2,174.7 618.0,175.2 618.8,178.3 619.5,171.6 620.2,177.4 621.7,176.8" stroke="#0077bb" stroke-width="1.9"/>
<polyline points="104.5,-20.8 107.8,19.7 111.0,35.3 113.3,49.8 115.2,21.9 117.2,58.9 119.6,72.3 121.2,60.6 123.5,83.0 125.1,89.4 127.4,92.2 129.0,99.8 130.5,93.7 132.0,102.5 133.5,97.6 135.0,106.5 136.5,100.4 138.0,109.4 139.5,103.4 140.8,84.9 142.0,112.3 143.5,106.4 145.0,115.4 146.5,107.2 148.0,117.4 149.5,110.3 151.8,89.4 153.0,119.2 154.5,112.1 156.2,89.8 157.5,122.2 159.0,115.2 160.5,125.4 161.8,127.5 162.5,121.5 163.2,126.4 164.0,111.0 164.8,126.8 165.5,111.7 166.2,128.4 167.0,124.5 167.8,124.8 168.5,129.8 169.2,130.5 170.0,126.1 170.8,131.2 171.5,127.6 172.2,140.4 173.0,125.5 173.8,128.0 174.5,139.4 175.2,129.5 176.0,128.0 176.8,134.4 177.5,130.1 178.2,134.2 179.0,128.7 179.8,138.3 180.5,151.9 181.2,122.1 182.0,129.8 182.8,130.4 183.5,136.0 184.2,136.5 185.0,136.7 185.8,130.8 186.5,139.0 187.2,126.5 188.0,137.0 188.8,131.9 189.5,145.2 190.2,143.8 191.0,134.8 191.8,132.5 192.5,139.8 193.2,135.0 194.0,139.4 194.8,135.7 195.5,135.7 196.2,139.7 197.0,143.8 197.8,129.1 198.5,136.0 199.2,140.5 200.0,137.2 200.8,140.9 201.5,137.4 202.2,142.8 203.0,132.6 203.8,133.8 204.5,141.4 205.2,132.9 206.0,141.5 206.8,142.0 207.5,133.2 208.2,143.5 209.0,131.3 209.8,142.5 210.5,133.2 211.2,147.6 212.0,143.3 212.8,139.3 213.5,146.7 214.2,149.5 215.0,139.4 215.8,144.3 216.5,136.4 217.2,148.3 218.0,133.6 218.8,143.4 219.5,135.8 220.2,138.8 221.0,144.0 221.8,140.7 222.5,144.4 223.2,140.1 224.0,148.7 224.8,141.4 225.5,140.3 226.2,144.9 227.0,141.6 227.8,146.8 228.5,141.0 229.2,148.8 230.0,150.4 230.8,141.2 231.5,151.6 232.2,142.0 233.0,146.5 233.8,146.3 234.5,134.8 235.2,148.5 236.0,143.1 236.8,148.9 237.5,143.4 238.2,147.3 239.0,153.4 239.8,137.9 240.5,146.9 241.2,147.5 242.0,147.6 242.8,150.0 243.5,141.1 244.2,144.0 245.0,159.7 245.8,139.4 246.5,148.0 247.2,144.8 248.0,154.7 248.8,144.9 249.5,157.5 250.2,145.8 251.0,156.4 251.8,146.2 252.5,146.0 253.2,152.4 254.0,145.2 254.8,146.2 255.5,144.5 256.2,147.1 257.0,151.0 257.8,146.7 258.5,151.6 259.2,154.0 260.0,160.5 260.8,148.5 261.5,154.1 262.2,147.1 263.0,144.9 263.8,157.4 264.5,150.3 265.2,155.3 266.0,149.5 266.8,154.5 267.5,151.5 268.2,155.3 269.0,152.4 269.8,164.5 270.5,157.2 271.2,159.0 272.0,170.5 272.8,161.9 273.5,169.2 274.2,160.3 275.0,158.7 275.8,168.5 276.5,161.8 277.2,163.0 278.0,165.9 278.8,160.1 279.5,165.6 280.2,162.9 281.0,166.2 281.8,164.4 282.5,176.1 283.2,165.3 284.0,168.1 284.8,163.0 285.5,170.2 286.2,162.8 287.0,165.1 287.8,168.0 288.5,164.6 289.2,166.3 290.0,169.3 290.8,165.6 291.5,166.6 292.2,166.8 293.0,166.8 293.8,172.4 294.5,171.2 295.2,169.6 296.0,173.0 296.8,164.9 297.5,167.1 298.2,174.4 299.0,170.2 299.8,166.8 300.5,169.9 301.2,164.1 302.0,169.4 302.8,163.9 303.5,170.5 304.2,169.9 305.0,172.1 305.8,166.4 306.5,170.0 307.2,166.0 308.0,171.4 308.8,165.7 309.5,170.1 310.2,168.1 311.0,170.8 311.8,168.5 312.5,170.4 313.2,168.2 314.0,166.6 314.8,170.8 315.5,164.2 316.2,170.5 317.0,159.9 317.8,170.8 318.5,168.3 319.2,171.0 320.0,172.4 320.8,164.5 321.5,171.0 322.2,169.1 323.0,171.3 323.8,166.4 324.5,167.4 325.2,171.4 326.0,169.2 326.8,178.3 327.5,168.0 328.2,171.9 329.0,169.7 329.8,173.0 330.5,168.0 331.2,171.9 332.0,164.5 332.8,174.4 333.5,172.4 334.2,169.3 335.0,173.9 335.8,170.6 336.5,173.5 337.2,168.4 338.0,172.4 338.8,169.2 339.5,172.5 340.2,170.8 341.0,172.7 341.8,170.1 342.5,172.7 343.2,172.9 344.0,170.7 344.8,171.0 345.5,171.0 346.2,173.0 347.0,171.1 347.8,173.1 348.5,170.0 349.2,178.1 350.0,171.7 350.8,177.0 351.5,171.8 352.2,171.4 353.0,174.2 353.8,171.8 354.5,173.6 355.2,174.3 356.0,172.1 356.8,174.1 357.5,172.0 358.2,174.6 359.0,170.9 359.8,172.8 360.5,178.0 361.2,179.5 362.0,178.7 362.8,177.0 363.5,180.8 364.2,174.8 365.0,179.0 365.8,170.0 366.5,181.9 367.2,177.9 368.0,177.7 368.8,178.0 369.5,180.0 370.2,178.6 371.0,178.4 371.8,180.5 372.5,179.0 373.2,181.6 374.0,178.5 374.8,179.4 375.5,181.3 376.2,172.2 377.0,181.2 377.8,178.4 378.5,181.8 379.2,180.4 380.0,182.5 380.8,185.7 381.5,180.4 382.2,182.3 383.0,179.3 383.8,185.3 384.5,179.5 385.2,182.7 386.0,179.8 386.8,182.7 387.5,180.1 388.2,183.2 389.0,180.4 389.8,184.1 390.5,180.7 391.2,182.2 392.0,179.7 392.8,182.1 393.5,178.9 394.2,184.3 395.0,180.7 395.8,183.8 396.5,180.7 397.2,183.2 398.0,180.3 398.8,186.3 399.5,180.8 400.2,182.2 401.0,183.7 401.8,180.7 402.5,182.3 403.2,189.2 404.0,177.8 404.8,182.3 405.5,183.6 406.2,180.0 407.0,182.5 407.8,182.7 408.5,181.1 409.2,181.1 410.0,181.2 410.8,187.2 411.5,183.2 412.2,179.6 413.0,183.4 413.8,179.7 414.5,185.4 415.2,180.4 416.0,184.0 416.8,178.8 417.5,183.2 418.2,180.2 419.0,175.7 419.8,183.6 420.5,182.0 421.2,185.8 422.0,181.8 422.8,183.7 423.5,178.9 424.2,181.1 425.0,185.2 425.8,175.3 426.5,181.9 427.2,186.9 428.0,182.1 428.8,185.0 429.5,182.3 430.2,184.5 431.0,180.6 431.8,191.7 432.5,183.5 433.2,189.7 434.0,192.4 434.8,179.3 435.5,184.8 436.2,180.7 437.0,188.0 437.8,188.5 438.5,180.2 439.2,192.4 440.0,184.3 440.8,187.1 441.5,184.2 442.2,186.6 443.0,182.4 443.8,185.9 444.5,183.2 445.2,185.9 446.0,184.5 446.8,186.1 447.5,184.6 448.2,186.2 449.0,183.2 449.8,183.1 450.5,189.9 451.2,185.0 452.0,187.6 452.8,185.1 453.5,185.0 454.2,184.2 455.0,189.1 455.8,186.9 456.5,185.3 457.2,184.6 458.0,187.0 458.8,182.3 459.5,185.1 460.2,187.0 461.0,188.5 461.8,187.3 462.5,185.5 463.2,188.2 464.0,185.5 464.8,187.3 465.5,185.6 466.2,188.0 467.0,187.6 467.8,185.9 468.5,187.6 469.2,186.2 470.0,187.7 470.8,187.8 471.5,180.9 472.2,189.2 473.0,190.0 473.8,189.8 474.5,184.8 475.2,188.8 476.0,189.0 476.8,186.8 477.5,188.7 478.2,190.1 479.0,184.8 479.8,185.7 480.5,188.4 481.2,186.7 482.0,188.5 482.8,187.1 483.5,188.6 484.2,189.4 485.0,180.5 485.8,188.4 486.5,188.8 487.2,186.1 488.0,181.7 488.8,188.6 489.5,187.4 490.2,189.4 491.0,182.2 491.8,184.6 492.5,192.2 493.2,189.4 494.0,184.8 494.8,189.1 495.5,193.5 496.2,188.0 497.0,187.2 497.8,189.6 498.5,182.6 499.2,187.3 500.0,187.9 500.8,186.6 501.5,193.2 502.2,188.4 503.0,190.9 503.8,189.9 504.5,190.8 505.2,188.5 506.0,196.6 506.8,190.9 507.5,188.2 508.2,188.2 509.0,191.1 509.8,192.6 510.5,188.4 511.2,190.7 512.0,187.5 512.8,190.2 513.5,188.9 514.2,191.9 515.0,188.7 515.8,193.0 516.5,187.5 517.2,190.5 518.0,189.1 518.8,190.9 519.5,192.2 520.2,189.3 521.0,190.7 521.8,188.4 522.5,191.2 523.2,195.6 524.0,189.6 524.8,192.4 525.5,188.8 526.2,191.6 527.0,189.7 527.8,194.4 528.5,184.9 529.2,185.5 530.0,191.0 530.8,185.7 531.5,191.1 532.2,195.2 533.0,188.4 533.8,191.3 534.5,186.4 535.2,191.7 536.0,190.1 536.8,192.4 537.5,188.1 538.2,192.9 539.0,192.1 539.8,183.6 540.5,191.8 541.2,190.2 542.0,191.7 542.8,191.8 543.5,189.5 544.2,193.0 545.0,192.5 545.8,191.9 546.5,190.0 547.2,191.8 548.0,185.3 548.8,192.7 549.5,192.8 550.2,190.2 551.0,191.9 551.8,188.6 552.5,192.2 553.2,192.2 554.0,187.3 554.8,190.4 555.5,194.3 556.2,192.4 557.0,189.1 557.8,186.5 558.5,192.9 559.2,190.1 560.0,192.2 560.8,190.8 561.5,192.3 562.2,187.1 563.0,196.5 563.8,191.0 564.5,195.5 565.2,184.6 566.0,190.6 566.8,188.6 567.5,192.3 568.2,199.1 569.0,191.3 569.8,193.2 570.5,192.6 571.2,188.2 572.0,194.5 572.8,191.3 573.5,192.6 574.2,193.6 575.0,189.7 575.8,192.6 576.5,190.9 577.2,193.6 578.0,191.0 578.8,199.2 579.5,190.3 580.2,193.6 581.0,191.3 581.8,192.8 582.5,191.1 583.2,192.6 584.0,193.3 584.8,191.2 585.5,191.1 586.2,192.8 587.0,192.6 587.8,191.1 588.5,192.5 589.2,191.1 590.0,193.1 590.8,191.1 591.5,192.5 592.2,192.7 593.0,191.1 593.8,189.6 594.5,192.3 595.2,192.5 596.0,190.1 596.8,190.5 597.5,192.3 598.2,191.0 599.0,190.4 599.8,192.3 600.5,193.1 601.2,192.7 602.0,188.3 602.8,193.0 603.5,192.4 604.2,194.9 605.0,192.4 605.8,190.9 606.5,192.2 607.2,192.8 608.0,195.0 608.8,191.0 609.5,187.8 610.2,192.0 611.0,190.0 611.8,198.5 612.5,191.0 613.2,192.3 614.0,190.4 614.8,192.5 615.5,189.8 616.2,192.0 617.0,190.7 617.8,190.6 618.5,194.0 619.2,193.5 620.0,188.4 620.8,191.9 621.7,191.3" stroke="#ff7043" stroke-width="2.5" stroke-opacity=".3"/>
<polyline points="104.5,-20.0 107.8,20.0 111.0,35.7 113.3,49.8 115.2,26.3 117.2,59.2 119.6,71.7 121.2,62.3 123.5,82.7 125.1,89.0 127.4,92.0 129.0,99.0 130.5,94.0 132.0,102.0 133.5,98.0 135.0,106.0 136.5,101.0 138.0,109.0 139.5,104.0 140.8,88.0 142.0,112.0 143.5,107.0 145.0,115.0 146.5,108.0 148.0,117.0 149.5,111.0 151.8,93.0 153.0,119.0 154.5,113.0 156.2,93.7 157.5,122.0 159.0,116.0 160.5,125.0 161.8,126.7 162.5,121.9 163.2,125.9 164.0,113.8 164.8,126.5 165.5,114.5 166.2,127.9 167.0,124.9 167.8,125.3 168.5,129.3 169.2,130.0 170.0,126.6 170.8,130.8 171.5,128.0 172.2,138.3 173.0,126.4 173.8,128.5 174.5,137.7 175.2,129.8 176.0,128.7 176.8,133.9 177.5,130.5 178.2,133.8 179.0,129.5 179.8,137.2 180.5,148.1 181.2,124.4 182.0,130.6 182.8,131.1 183.5,135.7 184.2,136.1 185.0,136.3 185.8,131.6 186.5,138.3 187.2,128.3 188.0,136.7 188.8,132.7 189.5,143.4 190.2,142.3 191.0,135.2 191.8,133.3 192.5,139.2 193.2,135.4 194.0,138.9 194.8,136.0 195.5,136.1 196.2,139.4 197.0,142.7 197.8,131.0 198.5,136.5 199.2,140.2 200.0,137.6 200.8,140.6 201.5,137.8 202.2,142.1 203.0,134.0 203.8,134.9 204.5,141.1 205.2,134.3 206.0,141.2 206.8,141.6 207.5,134.6 208.2,142.9 209.0,133.1 209.8,142.1 210.5,134.7 211.2,146.2 212.0,142.8 212.8,139.6 213.5,145.6 214.2,147.9 215.0,139.8 215.8,143.7 216.5,137.5 217.2,147.0 218.0,135.3 218.8,143.2 219.5,137.1 220.2,139.5 221.0,143.7 221.8,141.1 222.5,144.0 223.2,140.7 224.0,147.5 224.8,141.7 225.5,140.9 226.2,144.6 227.0,141.9 227.8,146.2 228.5,141.5 229.2,147.7 230.0,149.1 230.8,141.7 231.5,150.1 232.2,142.5 233.0,146.1 233.8,146.0 234.5,136.7 235.2,147.7 236.0,143.5 236.8,148.1 237.5,143.7 238.2,146.9 239.0,151.8 239.8,139.4 240.5,146.6 241.2,147.1 242.0,147.3 242.8,149.1 243.5,142.0 244.2,144.4 245.0,157.0 245.8,140.8 246.5,147.7 247.2,145.2 248.0,153.1 248.8,145.3 249.5,155.4 250.2,146.1 251.0,154.6 251.8,146.5 252.5,146.3 253.2,151.5 254.0,145.8 254.8,146.7 255.5,145.4 256.2,147.5 257.0,150.7 257.8,147.3 258.5,151.3 259.2,153.2 260.0,158.5 260.8,148.9 261.5,153.4 262.2,147.9 263.0,146.2 263.8,156.2 264.5,150.6 265.2,154.7 266.0,150.1 266.8,154.2 267.5,151.9 268.2,155.0 269.0,152.7 269.8,162.8 270.5,157.4 271.2,159.3 272.0,169.0 272.8,162.1 273.5,167.9 274.2,160.9 275.0,159.6 275.8,167.5 276.5,162.2 277.2,163.2 278.0,165.6 278.8,161.0 279.5,165.5 280.2,163.3 281.0,166.0 281.8,164.6 282.5,174.0 283.2,165.4 284.0,167.7 284.8,163.6 285.5,169.5 286.2,163.6 287.0,165.5 287.8,167.8 288.5,165.1 289.2,166.5 290.0,169.0 290.8,166.0 291.5,166.8 292.2,167.0 293.0,167.1 293.8,171.5 294.5,170.6 295.2,169.3 296.0,172.1 296.8,165.6 297.5,167.3 298.2,173.2 299.0,169.8 299.8,167.1 300.5,169.6 301.2,165.0 302.0,169.3 302.8,164.9 303.5,170.1 304.2,169.7 305.0,171.5 305.8,166.9 306.5,169.8 307.2,166.6 308.0,170.9 308.8,166.4 309.5,169.9 310.2,168.3 311.0,170.5 311.8,168.7 312.5,170.2 313.2,168.5 314.0,167.2 314.8,170.6 315.5,165.3 316.2,170.4 317.0,161.9 317.8,170.6 318.5,168.6 319.2,170.8 320.0,172.0 320.8,165.6 321.5,170.8 322.2,169.3 323.0,171.1 323.8,167.2 324.5,168.1 325.2,171.2 326.0,169.5 326.8,176.8 327.5,168.6 328.2,171.7 329.0,170.0 329.8,172.6 330.5,168.6 331.2,171.7 332.0,165.8 332.8,173.7 333.5,172.1 334.2,169.7 335.0,173.4 335.8,170.7 336.5,173.1 337.2,169.0 338.0,172.2 338.8,169.6 339.5,172.3 340.2,171.0 341.0,172.5 341.8,170.5 342.5,172.6 343.2,172.7 344.0,171.0 344.8,171.2 345.5,171.2 346.2,172.8 347.0,171.3 347.8,172.9 348.5,170.5 349.2,176.9 350.0,171.8 350.8,176.1 351.5,171.9 352.2,171.6 353.0,173.9 353.8,171.9 354.5,173.4 355.2,174.0 356.0,172.3 356.8,173.9 357.5,172.2 358.2,174.4 359.0,171.7 359.8,173.3 360.5,177.7 361.2,179.0 362.0,178.5 362.8,177.2 363.5,180.3 364.2,175.5 365.0,178.9 365.8,171.7 366.5,181.2 367.2,178.1 368.0,178.0 368.8,178.2 369.5,179.9 370.2,178.7 371.0,178.7 371.8,180.3 372.5,179.2 373.2,181.3 374.0,178.8 374.8,179.6 375.5,181.1 376.2,173.9 377.0,181.1 377.8,178.9 378.5,181.7 379.2,180.6 380.0,182.3 380.8,184.9 381.5,180.6 382.2,182.1 383.0,179.7 383.8,184.5 384.5,179.9 385.2,182.5 386.0,180.1 386.8,182.4 387.5,180.3 388.2,182.9 389.0,180.6 389.8,183.6 390.5,180.8 391.2,182.0 392.0,180.0 392.8,182.0 393.5,179.4 394.2,183.7 395.0,180.9 395.8,183.3 396.5,180.8 397.2,182.9 398.0,180.5 398.8,185.3 399.5,180.9 400.2,182.0 401.0,183.2 401.8,180.9 402.5,182.1 403.2,187.7 404.0,178.6 404.8,182.2 405.5,183.3 406.2,180.3 407.0,182.4 407.8,182.5 408.5,181.3 409.2,181.3 410.0,181.3 410.8,186.1 411.5,183.0 412.2,180.1 413.0,183.2 413.8,180.2 414.5,184.8 415.2,180.8 416.0,183.7 416.8,179.5 417.5,183.0 418.2,180.7 419.0,177.1 419.8,183.5 420.5,182.1 421.2,185.2 422.0,182.0 422.8,183.6 423.5,179.7 424.2,181.5 425.0,184.8 425.8,176.9 426.5,182.2 427.2,186.2 428.0,182.4 428.8,184.7 429.5,182.6 430.2,184.3 431.0,181.2 431.8,190.2 432.5,183.6 433.2,188.5 434.0,190.7 434.8,180.2 435.5,184.7 436.2,181.5 437.0,187.2 437.8,187.7 438.5,181.1 439.2,190.8 440.0,184.4 440.8,186.6 441.5,184.3 442.2,186.3 443.0,182.9 443.8,185.7 444.5,183.6 445.2,185.8 446.0,184.7 446.8,185.9 447.5,184.8 448.2,186.0 449.0,183.6 449.8,183.6 450.5,189.1 451.2,185.1 452.0,187.2 452.8,185.2 453.5,185.2 454.2,184.6 455.0,188.5 455.8,186.7 456.5,185.4 457.2,184.9 458.0,186.8 458.8,183.1 459.5,185.3 460.2,186.9 461.0,188.1 461.8,187.1 462.5,185.7 463.2,187.8 464.0,185.7 464.8,187.2 465.5,185.8 466.2,187.7 467.0,187.4 467.8,186.1 468.5,187.5 469.2,186.3 470.0,187.6 470.8,187.7 471.5,182.1 472.2,188.8 473.0,189.5 473.8,189.3 474.5,185.3 475.2,188.5 476.0,188.7 476.8,186.9 477.5,188.4 478.2,189.6 479.0,185.4 479.8,186.1 480.5,188.3 481.2,186.9 482.0,188.4 482.8,187.3 483.5,188.5 484.2,189.1 485.0,182.0 485.8,188.3 486.5,188.7 487.2,186.5 488.0,183.0 488.8,188.5 489.5,187.6 490.2,189.2 491.0,183.4 491.8,185.3 492.5,191.5 493.2,189.2 494.0,185.5 494.8,189.0 495.5,192.5 496.2,188.1 497.0,187.5 497.8,189.4 498.5,183.8 499.2,187.6 500.0,188.1 500.8,187.1 501.5,192.3 502.2,188.5 503.0,190.5 503.8,189.7 504.5,190.5 505.2,188.6 506.0,195.1 506.8,190.6 507.5,188.4 508.2,188.4 509.0,190.8 509.8,192.0 510.5,188.6 511.2,190.5 512.0,187.9 512.8,190.1 513.5,189.0 514.2,191.5 515.0,188.9 515.8,192.3 516.5,188.0 517.2,190.4 518.0,189.3 518.8,190.7 519.5,191.7 520.2,189.5 521.0,190.6 521.8,188.7 522.5,191.0 523.2,194.5 524.0,189.7 524.8,192.0 525.5,189.1 526.2,191.3 527.0,189.8 527.8,193.6 528.5,186.0 529.2,186.5 530.0,190.9 530.8,186.7 531.5,191.0 532.2,194.3 533.0,188.9 533.8,191.2 534.5,187.2 535.2,191.5 536.0,190.2 536.8,192.1 537.5,188.7 538.2,192.5 539.0,191.8 539.8,185.1 540.5,191.6 541.2,190.4 542.0,191.5 542.8,191.6 543.5,189.8 544.2,192.6 545.0,192.2 545.8,191.7 546.5,190.2 547.2,191.7 548.0,186.5 548.8,192.4 549.5,192.5 550.2,190.4 551.0,191.8 551.8,189.1 552.5,192.0 553.2,192.0 554.0,188.1 554.8,190.6 555.5,193.7 556.2,192.2 557.0,189.6 557.8,187.5 558.5,192.6 559.2,190.3 560.0,192.0 560.8,191.0 561.5,192.2 562.2,188.0 563.0,195.5 563.8,191.1 564.5,194.7 565.2,186.0 566.0,190.8 566.8,189.2 567.5,192.2 568.2,197.6 569.0,191.4 569.8,192.9 570.5,192.4 571.2,189.0 572.0,194.0 572.8,191.4 573.5,192.5 574.2,193.2 575.0,190.1 575.8,192.5 576.5,191.1 577.2,193.3 578.0,191.2 578.8,197.7 579.5,190.6 580.2,193.3 581.0,191.4 581.8,192.6 582.5,191.3 583.2,192.5 584.0,193.0 584.8,191.4 585.5,191.3 586.2,192.6 587.0,192.5 587.8,191.3 588.5,192.4 589.2,191.3 590.0,192.9 590.8,191.3 591.5,192.3 592.2,192.5 593.0,191.2 593.8,190.0 594.5,192.2 595.2,192.3 596.0,190.4 596.8,190.8 597.5,192.2 598.2,191.1 599.0,190.6 599.8,192.2 600.5,192.8 601.2,192.5 602.0,189.0 602.8,192.7 603.5,192.2 604.2,194.2 605.0,192.3 605.8,191.0 606.5,192.1 607.2,192.5 608.0,194.3 608.8,191.1 609.5,188.6 610.2,191.9 611.0,190.3 611.8,197.1 612.5,191.1 613.2,192.1 614.0,190.6 614.8,192.3 615.5,190.1 616.2,191.9 617.0,190.8 617.8,190.7 618.5,193.4 619.2,193.0 620.0,188.9 620.8,191.8 621.7,191.3" stroke="#ff7043" stroke-width="1.9"/>
</g>
<path d="M393.8 161.1 L402.0 161.1 L397.9 153.3 Z" fill="#cc3311" stroke="#cc3311" stroke-width="1" stroke-linejoin="round"/>
<path d="M415.8 162.9 L424.0 162.9 L419.9 155.1 Z" fill="#cc3311" stroke="#cc3311" stroke-width="1" stroke-linejoin="round"/>
<path d="M502.7 167.5 L510.9 167.5 L506.8 159.7 Z" fill="#cc3311" stroke="#cc3311" stroke-width="1" stroke-linejoin="round"/>
<path d="M393.4 151.0 L401.6 151.0 L397.5 143.2 Z" fill="#14b6e8" stroke="#14b6e8" stroke-width="1" stroke-linejoin="round"/>
<path d="M415.4 151.3 L423.6 151.3 L419.5 143.5 Z" fill="#14b6e8" stroke="#14b6e8" stroke-width="1" stroke-linejoin="round"/>
<path d="M502.7 152.8 L510.9 152.8 L506.8 145.0 Z" fill="#14b6e8" stroke="#14b6e8" stroke-width="1" stroke-linejoin="round"/>
<path d="M487.7 178.5 L495.9 178.5 L491.8 170.7 Z" fill="#0077bb" stroke="#0077bb" stroke-width="1" stroke-linejoin="round"/>
<path d="M538.5 182 L552 182 L546.800 174.300 Q545.200 173 543.600 174.300 Z" fill="#0077bb" stroke="#0077bb" stroke-width="1" stroke-linejoin="round"/>
<rect x="487" y="187" width="9" height="6.5" rx="1.5" fill="#ff7043"/>
<rect x="537" y="188.5" width="15" height="6.5" rx="1.5" fill="#ff7043"/>
<circle cx="621.7" cy="152.1" r="3.3" fill="#14b6e8"/>
<circle cx="621.7" cy="167.3" r="3.3" fill="#cc3311"/>
<circle cx="621.7" cy="176.8" r="3.3" fill="#0077bb"/>
<circle cx="621.7" cy="191.3" r="3.3" fill="#ff7043"/>
</svg>
<div class="title">losses/loss</div>
<svg style="position:absolute;left:0;top:340px" width="90" height="28" viewBox="0 0 90 28">
<circle cx="14.1" cy="14.1" r="12.9" fill="#dcdcdc"/>
<g fill="#0b92ee">
<path transform="translate(4.3,4.4) scale(.815)" d="M7 14H5v5h5v-2H7v-3zm-2-4h2V7h3V5H5v5zm12 7h-3v2h5v-5h-2v3zM14 5v2h3v3h2V5h-5z"/>
<path transform="translate(29.7,4.6) scale(.81)" d="M3 17h18v-2H3v2zm0 3h18v-1H3v1zm0-7h18v-3H3v3zm0-9v4h18V4H3z"/>
<path transform="translate(55.9,4.9) scale(.79)" d="M12.01 5.500L10 8h4l-1.990-2.500zM18 10v4l2.500-1.990L18 10zM6 10l-2.500 2.010L6 14v-4zm8 6h-4l2.010 2.500L14 16zm7-13H3c-1.100 0-2 .900-2 2v14c0 1.100.900 2 2 2h18c1.100 0 2-.900 2-2V5c0-1.100-.900-2-2-2zm0 16.010H3V4.990h18v14.020z"/>
</g>
</svg>
<div class="dl">run to download</div>
<svg style="position:absolute;left:608px;top:352px" width="14" height="10" viewBox="0 0 14 10"><path d="M2.900 3.600h7L6.400 7.400z" fill="#8a8a8a"/></svg>
<div style="position:absolute;left:544.5px;top:367.4px;width:79.5px;height:1px;background:#444"></div>
<div class="csv">CSV</div>
<div class="hline" style="top:383px"></div>
<div class="hline" style="top:413px"></div>
<div class="behind" style="left:-6px;top:392px;font-size:12.4px;line-height:14px;letter-spacing:.2px">metrics</div>
<div class="behind" style="left:1.2px;top:430px;font-size:11.2px;line-height:13px;letter-spacing:.28px">metrics/epe</div>
<svg style="position:absolute;left:0;top:448px" width="638" height="13" viewBox="0 448 638 13">
<g stroke="#d9d9d9" stroke-width="1">
<line x1="137.0" y1="451.2" x2="137.0" y2="461"/>
<line x1="181.0" y1="451.2" x2="181.0" y2="461"/>
<line x1="225.1" y1="451.2" x2="225.1" y2="461"/>
<line x1="269.1" y1="451.2" x2="269.1" y2="461"/>
<line x1="313.2" y1="451.2" x2="313.2" y2="461"/>
<line x1="357.3" y1="451.2" x2="357.3" y2="461"/>
<line x1="401.3" y1="451.2" x2="401.3" y2="461"/>
<line x1="445.4" y1="451.2" x2="445.4" y2="461"/>
<line x1="489.4" y1="451.2" x2="489.4" y2="461"/>
<line x1="533.5" y1="451.2" x2="533.5" y2="461"/>
<line x1="577.6" y1="451.2" x2="577.6" y2="461"/>
<line x1="621.6" y1="451.2" x2="621.6" y2="461"/>
</g>
<g stroke="#cfcfcf" stroke-width="1.2"><line x1="45" y1="451.2" x2="638" y2="451.2"/><line x1="49" y1="451.2" x2="49" y2="461"/></g>
<line x1="92.9" y1="451.2" x2="92.9" y2="461" stroke="#a3a3a3" stroke-width="1.4"/>
<g fill="none" stroke-width="1.7"><polyline points="103.500,451 106.800,461" stroke="#ff7043"/><polyline points="104.500,451 107.500,461" stroke="#cc3311"/><polyline points="106,451 109,461" stroke="#0077bb"/><polyline points="116.400,461 116.800,454 117.300,461" stroke="#0077bb"/></g>
</svg>
<div id="tip">
<div class="h" style="left:35.7px;top:7.800px">Name</div>
<div class="h" style="left:266.2px;top:7.800px">Smoothed</div>
<div class="h" style="left:327.5px;top:7.800px">Value</div>
<div class="h" style="left:365.5px;top:7.800px">Step</div>
<div class="h" style="left:406.6px;top:7.800px">Time</div>
<div class="h" style="left:512.8px;top:7.800px">Relative</div>
<div class="sw" style="left:11.7px;top:23.0px;background:#e56540;border:2px solid #ddd;"></div>
<div style="left:35.7px;top:24.6px">pwcnet-lg-6-2-multisteps-chairsthingsmix\train</div>
<div style="left:266.2px;top:24.6px">34.00</div>
<div style="left:327.5px;top:24.6px">34.11</div>
<div style="left:365.5px;top:24.6px">599.9k</div>
<div style="left:406.6px;top:24.6px;letter-spacing:-.13px">Thu Sep 20, 11:55:44</div>
<div style="left:512.8px;top:24.6px;letter-spacing:-.03px">9d 20h 36m 41s</div>
<div class="sw" style="left:11.7px;top:39.0px;background:#0a6ca8;"></div>
<div style="left:35.7px;top:40.7px">pwcnet-lg-6-2-multisteps-chairsthingsmix\val</div>
<div style="left:266.2px;top:40.7px">38.66</div>
<div style="left:327.5px;top:40.7px">38.62</div>
<div style="left:365.5px;top:40.7px">600.0k</div>
<div style="left:406.6px;top:40.7px;letter-spacing:-.13px">Thu Sep 20, 11:57:54</div>
<div style="left:512.8px;top:40.7px;letter-spacing:-.03px">9d 20h 31m 37s</div>
<div class="sw" style="left:11.7px;top:55.0px;background:#b92f17;"></div>
<div style="left:35.7px;top:56.8px">pwcnet-sm-6-2-multisteps-chairsthingsmix\train</div>
<div style="left:266.2px;top:56.8px">41.89</div>
<div style="left:327.5px;top:56.8px">41.90</div>
<div style="left:365.5px;top:56.8px">600.0k</div>
<div style="left:406.6px;top:56.8px;letter-spacing:-.13px">Fri Sep 28, 13:45:05</div>
<div style="left:512.8px;top:56.8px;letter-spacing:-.03px">7d 16h 59m 56s</div>
<div class="sw" style="left:11.7px;top:71.0px;background:#14a4cf;"></div>
<div style="left:35.7px;top:72.9px">pwcnet-sm-6-2-multisteps-chairsthingsmix\val</div>
<div style="left:266.2px;top:72.9px">46.94</div>
<div style="left:327.5px;top:72.9px">46.94</div>
<div style="left:365.5px;top:72.9px">600.0k</div>
<div style="left:406.6px;top:72.9px;letter-spacing:-.13px">Fri Sep 28, 13:45:26</div>
<div style="left:512.8px;top:72.9px;letter-spacing:-.03px">7d 16h 59m 55s</div>
</div>
</body>
</html>
